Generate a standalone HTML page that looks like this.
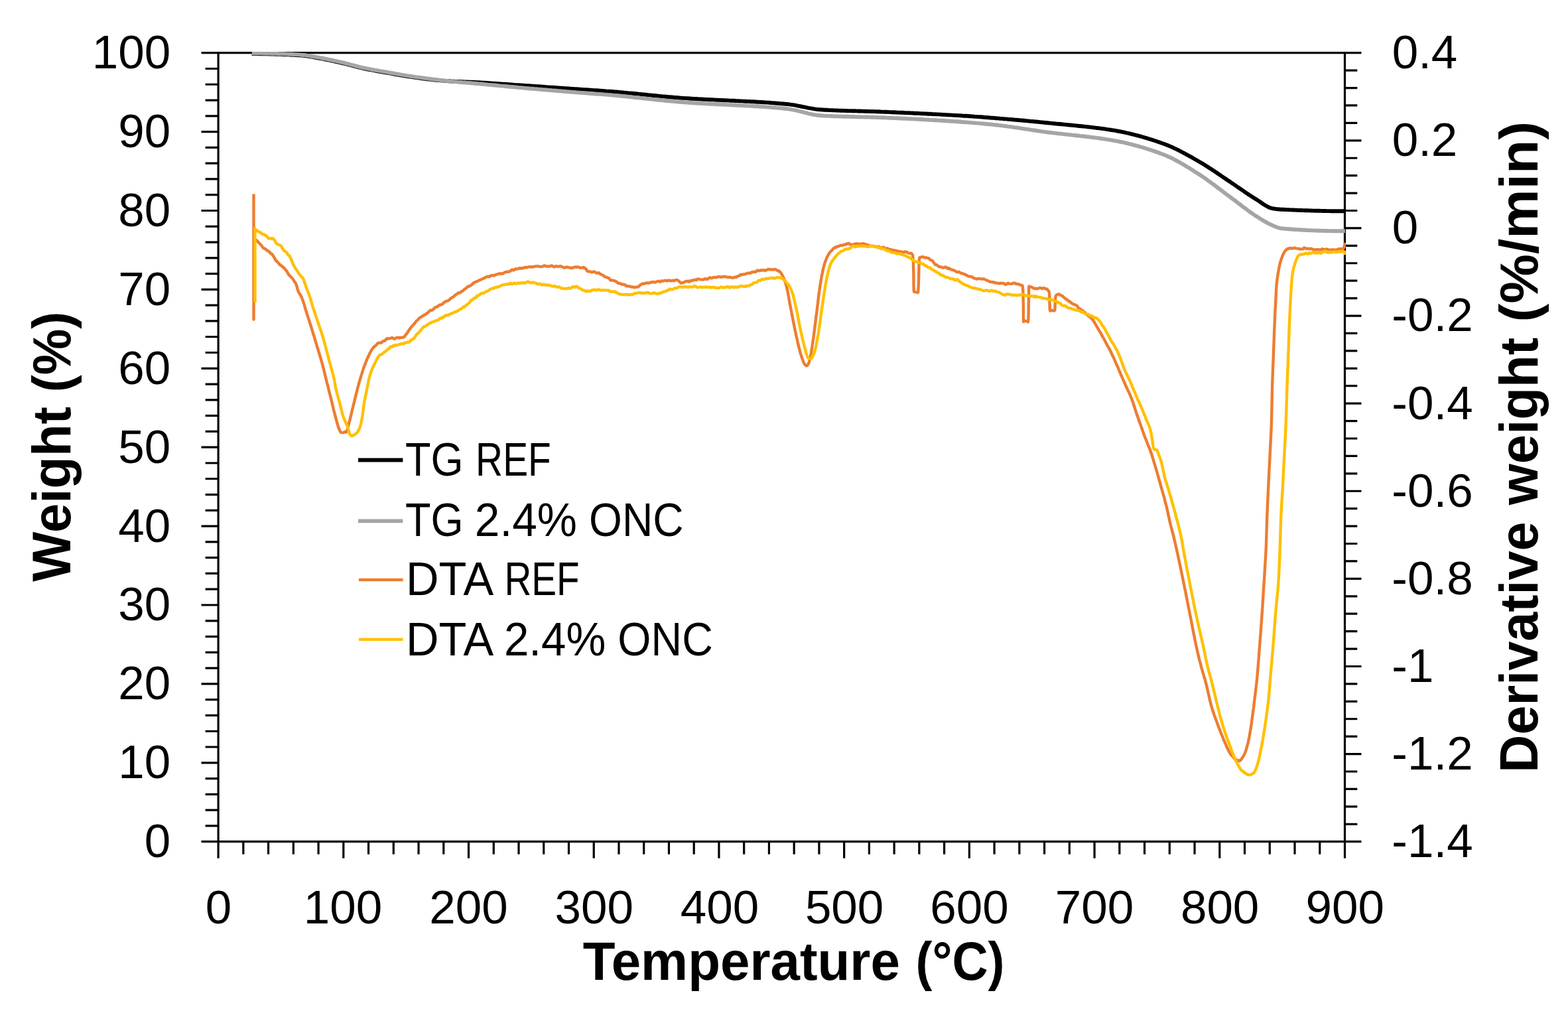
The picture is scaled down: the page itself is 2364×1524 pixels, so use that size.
<!DOCTYPE html>
<html lang="en"><head><meta charset="utf-8"><title>TG / DTA curves</title>
<style>html,body{margin:0;padding:0;background:#fff}body{width:2364px;height:1524px;overflow:hidden}svg{display:block}text{white-space:pre}</style>
</head><body>
<svg width="2364" height="1524" viewBox="0 0 2364 1524" font-family="'Liberation Sans', Arial, sans-serif" fill="#000">
<rect width="2364" height="1524" fill="#fff"/>
<g>
<rect width="2364" height="1524" fill="#fff"/>
<path d="M329.1,79.7 V1293.7 M2027.5,79.7 V1293.7 M303.5,79.7 H2052.5 M303.5,1268.7 H2052.5 M309.6,1244.92 H329.1 M309.6,1221.14 H329.1 M309.6,1197.36 H329.1 M309.6,1173.58 H329.1 M303.5,1149.8 H329.1 M309.6,1126.02 H329.1 M309.6,1102.24 H329.1 M309.6,1078.46 H329.1 M309.6,1054.68 H329.1 M303.5,1030.9 H329.1 M309.6,1007.12 H329.1 M309.6,983.34 H329.1 M309.6,959.56 H329.1 M309.6,935.78 H329.1 M303.5,912 H329.1 M309.6,888.22 H329.1 M309.6,864.44 H329.1 M309.6,840.66 H329.1 M309.6,816.88 H329.1 M303.5,793.1 H329.1 M309.6,769.32 H329.1 M309.6,745.54 H329.1 M309.6,721.76 H329.1 M309.6,697.98 H329.1 M303.5,674.2 H329.1 M309.6,650.42 H329.1 M309.6,626.64 H329.1 M309.6,602.86 H329.1 M309.6,579.08 H329.1 M303.5,555.3 H329.1 M309.6,531.52 H329.1 M309.6,507.74 H329.1 M309.6,483.96 H329.1 M309.6,460.18 H329.1 M303.5,436.4 H329.1 M309.6,412.62 H329.1 M309.6,388.84 H329.1 M309.6,365.06 H329.1 M309.6,341.28 H329.1 M303.5,317.5 H329.1 M309.6,293.72 H329.1 M309.6,269.94 H329.1 M309.6,246.16 H329.1 M309.6,222.38 H329.1 M303.5,198.6 H329.1 M309.6,174.82 H329.1 M309.6,151.04 H329.1 M309.6,127.26 H329.1 M309.6,103.48 H329.1 M2027.5,106.12 H2046.3 M2027.5,132.54 H2046.3 M2027.5,158.97 H2046.3 M2027.5,185.39 H2046.3 M2027.5,211.81 H2052.5 M2027.5,238.23 H2046.3 M2027.5,264.66 H2046.3 M2027.5,291.08 H2046.3 M2027.5,317.5 H2046.3 M2027.5,343.92 H2052.5 M2027.5,370.34 H2046.3 M2027.5,396.77 H2046.3 M2027.5,423.19 H2046.3 M2027.5,449.61 H2046.3 M2027.5,476.03 H2052.5 M2027.5,502.46 H2046.3 M2027.5,528.88 H2046.3 M2027.5,555.3 H2046.3 M2027.5,581.72 H2046.3 M2027.5,608.14 H2052.5 M2027.5,634.57 H2046.3 M2027.5,660.99 H2046.3 M2027.5,687.41 H2046.3 M2027.5,713.83 H2046.3 M2027.5,740.26 H2052.5 M2027.5,766.68 H2046.3 M2027.5,793.1 H2046.3 M2027.5,819.52 H2046.3 M2027.5,845.94 H2046.3 M2027.5,872.37 H2052.5 M2027.5,898.79 H2046.3 M2027.5,925.21 H2046.3 M2027.5,951.63 H2046.3 M2027.5,978.06 H2046.3 M2027.5,1004.48 H2052.5 M2027.5,1030.9 H2046.3 M2027.5,1057.32 H2046.3 M2027.5,1083.74 H2046.3 M2027.5,1110.17 H2046.3 M2027.5,1136.59 H2052.5 M2027.5,1163.01 H2046.3 M2027.5,1189.43 H2046.3 M2027.5,1215.86 H2046.3 M2027.5,1242.28 H2046.3 M366.84,1268.7 V1287.7 M404.58,1268.7 V1287.7 M442.33,1268.7 V1287.7 M480.07,1268.7 V1287.7 M517.81,1268.7 V1293.7 M555.55,1268.7 V1287.7 M593.3,1268.7 V1287.7 M631.04,1268.7 V1287.7 M668.78,1268.7 V1287.7 M706.52,1268.7 V1293.7 M744.26,1268.7 V1287.7 M782.01,1268.7 V1287.7 M819.75,1268.7 V1287.7 M857.49,1268.7 V1287.7 M895.23,1268.7 V1293.7 M932.98,1268.7 V1287.7 M970.72,1268.7 V1287.7 M1008.46,1268.7 V1287.7 M1046.2,1268.7 V1287.7 M1083.94,1268.7 V1293.7 M1121.69,1268.7 V1287.7 M1159.43,1268.7 V1287.7 M1197.17,1268.7 V1287.7 M1234.91,1268.7 V1287.7 M1272.66,1268.7 V1293.7 M1310.4,1268.7 V1287.7 M1348.14,1268.7 V1287.7 M1385.88,1268.7 V1287.7 M1423.62,1268.7 V1287.7 M1461.37,1268.7 V1293.7 M1499.11,1268.7 V1287.7 M1536.85,1268.7 V1287.7 M1574.59,1268.7 V1287.7 M1612.34,1268.7 V1287.7 M1650.08,1268.7 V1293.7 M1687.82,1268.7 V1287.7 M1725.56,1268.7 V1287.7 M1763.3,1268.7 V1287.7 M1801.05,1268.7 V1287.7 M1838.79,1268.7 V1293.7 M1876.53,1268.7 V1287.7 M1914.27,1268.7 V1287.7 M1952.02,1268.7 V1287.7 M1989.76,1268.7 V1287.7" fill="none" stroke="#000" stroke-width="3.2"/>
<g font-size="69.6">
<text y="1292.1" font-size="69.6" xml:space="preserve"><tspan x="217.76" textLength="39.48" lengthAdjust="spacingAndGlyphs">0</tspan></text>
<text y="1173.2" font-size="69.6" xml:space="preserve"><tspan x="178.36" textLength="78.97" lengthAdjust="spacingAndGlyphs">10</tspan></text>
<text y="1054.3" font-size="69.6" xml:space="preserve"><tspan x="178.36" textLength="78.97" lengthAdjust="spacingAndGlyphs">20</tspan></text>
<text y="935.4" font-size="69.6" xml:space="preserve"><tspan x="178.36" textLength="78.97" lengthAdjust="spacingAndGlyphs">30</tspan></text>
<text y="816.5" font-size="69.6" xml:space="preserve"><tspan x="178.36" textLength="78.97" lengthAdjust="spacingAndGlyphs">40</tspan></text>
<text y="697.6" font-size="69.6" xml:space="preserve"><tspan x="178.36" textLength="78.97" lengthAdjust="spacingAndGlyphs">50</tspan></text>
<text y="578.7" font-size="69.6" xml:space="preserve"><tspan x="178.36" textLength="78.97" lengthAdjust="spacingAndGlyphs">60</tspan></text>
<text y="459.8" font-size="69.6" xml:space="preserve"><tspan x="178.36" textLength="78.97" lengthAdjust="spacingAndGlyphs">70</tspan></text>
<text y="340.9" font-size="69.6" xml:space="preserve"><tspan x="178.36" textLength="78.97" lengthAdjust="spacingAndGlyphs">80</tspan></text>
<text y="222" font-size="69.6" xml:space="preserve"><tspan x="178.36" textLength="78.97" lengthAdjust="spacingAndGlyphs">90</tspan></text>
<text y="103.1" font-size="69.6" xml:space="preserve"><tspan x="138.78" textLength="118.45" lengthAdjust="spacingAndGlyphs">100</tspan></text>
<text y="103.1" font-size="69.6" xml:space="preserve"><tspan x="2098.66" textLength="98.69" lengthAdjust="spacingAndGlyphs">0.4</tspan></text>
<text y="235.21" font-size="69.6" xml:space="preserve"><tspan x="2098.66" textLength="98.69" lengthAdjust="spacingAndGlyphs">0.2</tspan></text>
<text y="367.32" font-size="69.6" xml:space="preserve"><tspan x="2098.66" textLength="39.48" lengthAdjust="spacingAndGlyphs">0</tspan></text>
<text y="499.43" font-size="69.6" xml:space="preserve"><tspan x="2098.31" textLength="122.33" lengthAdjust="spacingAndGlyphs">-0.2</tspan></text>
<text y="631.54" font-size="69.6" xml:space="preserve"><tspan x="2098.31" textLength="122.33" lengthAdjust="spacingAndGlyphs">-0.4</tspan></text>
<text y="763.66" font-size="69.6" xml:space="preserve"><tspan x="2098.31" textLength="122.33" lengthAdjust="spacingAndGlyphs">-0.6</tspan></text>
<text y="895.77" font-size="69.6" xml:space="preserve"><tspan x="2098.31" textLength="122.33" lengthAdjust="spacingAndGlyphs">-0.8</tspan></text>
<text y="1027.88" font-size="69.6" xml:space="preserve"><tspan x="2098.31" textLength="63.12" lengthAdjust="spacingAndGlyphs">-1</tspan></text>
<text y="1159.99" font-size="69.6" xml:space="preserve"><tspan x="2098.31" textLength="122.33" lengthAdjust="spacingAndGlyphs">-1.2</tspan></text>
<text y="1292.1" font-size="69.6" xml:space="preserve"><tspan x="2098.31" textLength="122.33" lengthAdjust="spacingAndGlyphs">-1.4</tspan></text>
<text y="1392.4" font-size="69.6" xml:space="preserve"><tspan x="309.81" textLength="39.48" lengthAdjust="spacingAndGlyphs">0</tspan></text>
<text y="1392.4" font-size="69.6" xml:space="preserve"><tspan x="457.79" textLength="118.45" lengthAdjust="spacingAndGlyphs">100</tspan></text>
<text y="1392.4" font-size="69.6" xml:space="preserve"><tspan x="647.39" textLength="118.45" lengthAdjust="spacingAndGlyphs">200</tspan></text>
<text y="1392.4" font-size="69.6" xml:space="preserve"><tspan x="836.54" textLength="118.45" lengthAdjust="spacingAndGlyphs">300</tspan></text>
<text y="1392.4" font-size="69.6" xml:space="preserve"><tspan x="1025.79" textLength="118.45" lengthAdjust="spacingAndGlyphs">400</tspan></text>
<text y="1392.4" font-size="69.6" xml:space="preserve"><tspan x="1213.88" textLength="118.45" lengthAdjust="spacingAndGlyphs">500</tspan></text>
<text y="1392.4" font-size="69.6" xml:space="preserve"><tspan x="1402.23" textLength="118.45" lengthAdjust="spacingAndGlyphs">600</tspan></text>
<text y="1392.4" font-size="69.6" xml:space="preserve"><tspan x="1590.86" textLength="118.45" lengthAdjust="spacingAndGlyphs">700</tspan></text>
<text y="1392.4" font-size="69.6" xml:space="preserve"><tspan x="1779.92" textLength="118.45" lengthAdjust="spacingAndGlyphs">800</tspan></text>
<text y="1392.4" font-size="69.6" xml:space="preserve"><tspan x="1968.46" textLength="118.45" lengthAdjust="spacingAndGlyphs">900</tspan></text>
</g>
<text y="1476.6" font-size="82.3" font-weight="bold" xml:space="preserve"><tspan x="878.8" textLength="478.08" lengthAdjust="spacingAndGlyphs">Temperature</tspan> <tspan x="1380.45" textLength="134.04" lengthAdjust="spacingAndGlyphs">(°C)</tspan></text>
<text y="105.5" font-size="82.3" font-weight="bold" transform="rotate(-90)" xml:space="preserve"><tspan x="-876.8" textLength="263.86" lengthAdjust="spacingAndGlyphs">Weight</tspan> <tspan x="-591.21" textLength="121.53" lengthAdjust="spacingAndGlyphs">(%)</tspan></text>
<text y="2318.4" font-size="82.3" font-weight="bold" transform="rotate(-90)" xml:space="preserve"><tspan x="-1164.64" textLength="378.08" lengthAdjust="spacingAndGlyphs">Derivative</tspan> <tspan x="-761.2" textLength="252.42" lengthAdjust="spacingAndGlyphs">weight</tspan> <tspan x="-485.49" textLength="302.56" lengthAdjust="spacingAndGlyphs">(%/min)</tspan></text>
<clipPath id="pc"><rect x="329.1" y="78.1" width="1700" height="1192.2"/></clipPath>
<g fill="none" stroke-linejoin="round" stroke-linecap="butt" clip-path="url(#pc)">
<path d="M379.6,81.1L382.6,81.1L385.7,81.1L388.7,81.1L391.7,81.2L394.7,81.2L397.7,81.3L400.8,81.3L403.8,81.4L406.8,81.5L409.8,81.5L412.8,81.6L415.8,81.7L418.8,81.8L421.8,81.9L424.8,82L427.8,82.2L430.8,82.3L433.8,82.4L436.8,82.6L439.8,82.7L442.8,82.9L445.8,83L448.8,83.2L451,83.3L451.8,83.3L454.8,83.6L457.7,83.9L460.7,84.3L463.7,84.7L466.7,85.2L469.7,85.7L472.6,86.2L475.6,86.8L478.6,87.3L481.5,87.9L484,88.3L484.5,88.4L487.5,88.9L490.4,89.5L493.4,90.1L496.3,90.7L499.3,91.3L502.2,91.9L505.1,92.6L508.1,93.3L511,93.9L513.9,94.6L516.9,95.3L517,95.3L519.8,96L522.7,96.7L525.6,97.4L528.5,98.2L531.5,99L534.4,99.8L537.3,100.5L540.2,101.3L543.1,102L546,102.7L549,103.4L550,103.6L551.9,104L554.9,104.6L557.8,105.2L560.8,105.7L563.7,106.2L566.7,106.8L569.7,107.3L572.6,107.8L575.6,108.3L578.6,108.8L581.5,109.3L583,109.6L584.5,109.9L587.4,110.4L590.4,110.9L593.4,111.5L596.3,112L599.3,112.5L602.3,113L605.2,113.5L608.2,114.1L611.2,114.5L614.1,115L616,115.3L617.1,115.5L620.1,115.9L623.1,116.4L626,116.8L629,117.2L632,117.7L635,118.1L638,118.5L640.9,118.9L643.9,119.2L646.9,119.6L649,119.8L649.9,119.9L652.9,120.2L655.9,120.5L658.9,120.8L661.9,121.1L664.9,121.4L667.9,121.6L670.9,121.9L673.9,122.1L676.9,122.3L679.9,122.5L682,122.6L682.9,122.6L685.9,122.8L688.9,122.9L691.9,123L694.9,123.2L697.9,123.3L700.9,123.4L703.9,123.5L706.9,123.6L710,123.7L712,123.8L713,123.8L716,124L719,124.2L722,124.3L725,124.5L728,124.7L731,124.8L734,125L737,125.2L740,125.4L743,125.6L746,125.8L749,126L752,126.2L755,126.4L758,126.6L761,126.8L764,127L767,127.2L770,127.4L773,127.6L776,127.9L779,128.1L782,128.3L785,128.5L788,128.7L788.4,128.7L791,128.9L794,129.1L797,129.3L800,129.5L803,129.7L806,129.9L809,130.1L812,130.3L815,130.5L818,130.7L821,130.9L824,131.2L827,131.4L830.1,131.6L833.1,131.8L836.1,132L839.1,132.2L842.1,132.4L845.1,132.6L848.1,132.8L851.1,133.1L854.1,133.3L857.1,133.5L860.1,133.7L863.1,133.9L864.6,134L866.1,134.1L869.1,134.3L872.1,134.5L875.1,134.7L878.1,134.9L881.1,135.1L884.1,135.3L887.1,135.5L890.1,135.7L893.1,135.9L896.1,136.1L899.1,136.3L902.1,136.5L905.1,136.7L908.1,136.9L911.1,137.1L914.1,137.4L917.1,137.6L920,137.8L920.1,137.8L923.1,138L926.1,138.3L929.1,138.5L932.1,138.8L935.1,139.1L938.1,139.3L941.1,139.6L944.1,139.9L947.1,140.2L950.1,140.4L953.1,140.7L956.1,141L959.1,141.3L962.1,141.6L965.1,141.9L968,142.2L971,142.5L974,142.8L977,143.1L980,143.4L983,143.7L986,144L989,144.3L992,144.6L995,144.9L998,145.2L1001,145.4L1004,145.7L1007,146L1010,146.2L1013,146.5L1016,146.8L1019,147L1022,147.2L1025,147.5L1026.9,147.6L1028,147.7L1031,147.9L1034,148.1L1037,148.3L1040,148.5L1043,148.7L1046,148.9L1049,149L1052,149.2L1055,149.4L1058,149.5L1061,149.7L1064,149.9L1067,150L1070.1,150.2L1073.1,150.3L1076.1,150.4L1079.1,150.6L1082.1,150.7L1085.1,150.9L1088.1,151L1091.1,151.2L1094.1,151.3L1097.2,151.4L1100.2,151.6L1103.2,151.7L1106.2,151.8L1109.2,152L1112.2,152.1L1115.2,152.3L1118.2,152.4L1121.2,152.6L1124.2,152.7L1127.2,152.9L1130.2,153L1133.3,153.2L1136.3,153.3L1139.3,153.5L1142.3,153.7L1145.3,153.9L1148.3,154L1151.3,154.2L1154.3,154.4L1157.3,154.6L1160.3,154.8L1163.3,155.1L1166.3,155.3L1169.2,155.5L1172.2,155.7L1175.2,156L1178.2,156.2L1181.2,156.5L1184.2,156.8L1186.8,157L1187.2,157L1190.2,157.4L1193.1,157.8L1196.1,158.2L1199.1,158.7L1202,159.3L1205,159.9L1208,160.5L1210.9,161.1L1213.9,161.7L1216.9,162.3L1219.8,162.9L1222.8,163.4L1225.8,163.9L1228.7,164.4L1231.7,164.8L1234.7,165.1L1237.6,165.3L1237.7,165.3L1240.6,165.5L1243.6,165.7L1246.6,165.8L1249.6,166L1252.6,166.1L1255.6,166.2L1258.6,166.4L1261.6,166.5L1264.6,166.6L1267.6,166.7L1270.6,166.8L1273.7,166.9L1276.7,167L1279.7,167.1L1282.7,167.1L1285.7,167.2L1288.7,167.3L1291.7,167.4L1294.7,167.5L1297.8,167.5L1300.8,167.6L1303.8,167.7L1306.8,167.8L1309.8,167.9L1312.8,168L1315.8,168L1318.8,168.1L1321.9,168.2L1324.9,168.3L1327.9,168.5L1330.9,168.6L1331.5,168.6L1333.9,168.7L1336.9,168.8L1339.9,168.9L1342.9,169.1L1345.9,169.2L1348.9,169.3L1351.9,169.5L1354.9,169.6L1357.9,169.7L1360.9,169.8L1364,170L1367,170.1L1370,170.2L1373,170.4L1376,170.5L1379,170.7L1382,170.8L1385,170.9L1388,171.1L1391,171.2L1394,171.4L1397,171.5L1400,171.7L1403,171.8L1406,172L1409,172.1L1412,172.3L1415,172.4L1418.1,172.6L1421.1,172.8L1424.1,172.9L1427.1,173.1L1430.1,173.3L1433.1,173.4L1436.1,173.6L1439.1,173.8L1442.1,173.9L1445.1,174.1L1448.1,174.3L1450,174.4L1451.1,174.5L1454.1,174.7L1457.1,174.8L1460.1,175L1463.1,175.2L1466.1,175.4L1469.1,175.7L1472.1,175.9L1475.1,176.1L1478.1,176.3L1481.1,176.5L1484.1,176.8L1487.1,177L1490.1,177.2L1493.1,177.5L1496.1,177.7L1499.1,177.9L1500,178L1502.1,178.2L1505.1,178.4L1508.1,178.7L1511.1,178.9L1514.1,179.2L1517.1,179.4L1520.1,179.7L1523.1,179.9L1526.1,180.2L1529.1,180.5L1532.1,180.7L1535.1,181L1538.1,181.3L1541.1,181.5L1544.1,181.8L1547.1,182.1L1550.1,182.4L1553.1,182.7L1556.1,182.9L1559.1,183.2L1562.1,183.5L1565.1,183.8L1568,184.1L1571,184.4L1574,184.7L1577,185L1577,185L1580,185.3L1583,185.6L1586,185.9L1589,186.2L1592,186.5L1595,186.7L1598,187L1601,187.3L1604,187.6L1607,187.9L1610,188.2L1613,188.5L1616.1,188.8L1619.1,189.1L1622.1,189.4L1625.1,189.7L1628.1,190L1631.1,190.3L1634.1,190.6L1637.1,190.9L1640.1,191.3L1643,191.6L1646,191.9L1649,192.3L1652,192.7L1655,193L1658,193.4L1660.9,193.8L1663.9,194.2L1666.9,194.6L1669.8,195.1L1672.8,195.5L1675.7,196L1678.4,196.4L1678.7,196.4L1681.6,196.9L1684.6,197.5L1687.5,198L1690.5,198.6L1693.4,199.2L1696.4,199.8L1699.3,200.5L1702.3,201.2L1705.2,201.9L1708.2,202.6L1711.1,203.3L1714.1,204.1L1717,204.9L1719.9,205.7L1722.8,206.5L1725.7,207.4L1728.6,208.2L1731.5,209.1L1734.4,210L1737.3,210.9L1740.1,211.8L1743,212.8L1745.8,213.7L1748.7,214.7L1751.5,215.7L1754.3,216.7L1754.6,216.8L1757.1,217.7L1759.8,218.8L1762.6,219.9L1765.3,221.1L1768.1,222.3L1770.8,223.6L1773.5,224.9L1776.2,226.2L1778.9,227.6L1781.6,229L1784.3,230.4L1787,231.8L1789.7,233.3L1792.3,234.8L1794.9,236.2L1797.6,237.7L1800.2,239.2L1802.8,240.7L1805.3,242.1L1805.4,242.2L1808,243.7L1810.6,245.2L1813.2,246.7L1815.7,248.3L1818.3,249.9L1820.8,251.5L1823.3,253.2L1825.9,254.8L1828.4,256.5L1830.9,258.1L1833.4,259.8L1835.9,261.5L1838.4,263.2L1840.9,264.9L1843.4,266.6L1845.9,268.3L1848.4,270L1850.9,271.7L1853.4,273.3L1855.9,275L1856,275.1L1858.4,276.7L1860.9,278.4L1863.4,280.1L1865.8,281.8L1868.3,283.5L1870.8,285.2L1873.3,286.9L1875.8,288.6L1878.2,290.3L1880.7,292L1883.2,293.7L1885.8,295.3L1888.3,297L1890.8,298.6L1893.4,300.1L1894,300.5L1895.9,301.7L1898.5,303.4L1901.1,305.2L1903.6,307L1906.2,308.7L1908.9,310.3L1911.5,311.8L1914.2,313L1917,313.9L1919.5,314.5L1919.8,314.5L1922.7,314.9L1925.7,315.3L1928.7,315.5L1931.7,315.7L1932,315.7L1934.7,315.8L1937.7,316L1940.7,316.1L1943.8,316.3L1946.8,316.4L1949.8,316.5L1952.8,316.6L1955.8,316.8L1958.8,316.9L1961.8,317L1964.8,317.1L1967.8,317.2L1970.8,317.3L1973.8,317.4L1976.8,317.5L1979.8,317.6L1982.8,317.7L1985.8,317.7L1988.8,317.8L1991.8,317.9L1994.8,318L1997.9,318L2000.9,318.1L2003.9,318.1L2006.9,318.2L2009.9,318.2L2012.9,318.2L2015.9,318.3L2018.9,318.3L2022,318.3L2025,318.3L2028,318.3" stroke="#000" stroke-width="5.9"/>
<path d="M379.6,80.3L382.6,80.3L385.7,80.3L388.7,80.3L391.7,80.4L394.7,80.4L397.7,80.5L400.7,80.5L403.8,80.6L406.8,80.6L409.8,80.7L412.8,80.8L415.8,80.9L418.8,81L421.8,81.1L424.8,81.2L427.8,81.3L430.8,81.4L433.8,81.6L436.8,81.7L439.8,81.8L442.8,82L445.7,82.1L448.7,82.3L451,82.4L451.7,82.4L454.7,82.7L457.7,83L460.7,83.3L463.6,83.8L466.6,84.2L469.6,84.8L472.6,85.3L475.5,85.8L478.5,86.4L481.5,86.9L484,87.4L484.4,87.5L487.4,88L490.3,88.6L493.3,89.2L496.2,89.8L499.2,90.4L502.1,91L505,91.7L508,92.3L510.9,93L513.8,93.7L516.8,94.3L517,94.4L519.7,95L522.6,95.8L525.5,96.5L528.4,97.3L531.3,98L534.2,98.8L537.1,99.6L540.1,100.4L543,101.1L545.9,101.8L548.8,102.4L550,102.7L551.8,103.1L554.7,103.7L557.7,104.2L560.6,104.8L563.6,105.3L566.5,105.8L569.5,106.4L572.5,106.9L575.4,107.4L578.4,107.9L581.3,108.4L583,108.7L584.3,108.9L587.3,109.5L590.2,110L593.2,110.5L596.1,111.1L599.1,111.6L602.1,112.1L605,112.6L608,113.1L611,113.6L613.9,114.1L616,114.4L616.9,114.5L619.9,115L622.8,115.4L625.8,115.9L628.8,116.3L631.8,116.7L634.8,117.1L637.7,117.5L640.7,117.9L643.7,118.3L646.7,118.7L649,119L649.7,119.1L652.6,119.5L655.6,119.8L658.6,120.2L661.6,120.6L664.6,120.9L667.6,121.3L670.6,121.6L673.5,121.9L676.5,122.2L679.5,122.6L682,122.8L682.5,122.9L685.5,123.1L688.5,123.4L691.5,123.7L694.5,123.9L697.5,124.2L700.5,124.4L703.5,124.7L706.5,124.9L709.5,125.2L712,125.4L712.5,125.4L715.5,125.7L718.5,126L721.4,126.3L724.4,126.5L727.4,126.8L730.4,127.1L733.4,127.4L736.4,127.7L739.4,127.9L742.4,128.2L745.4,128.5L748.4,128.8L751.4,129.1L754.4,129.4L757.4,129.6L760.4,129.9L763.4,130.2L766.3,130.5L769.3,130.8L772.3,131L775.3,131.3L778.3,131.6L781.3,131.9L784.3,132.1L787.3,132.4L788.4,132.5L790.3,132.7L793.3,132.9L796.3,133.2L799.3,133.5L802.3,133.7L805.3,134L808.3,134.2L811.3,134.5L814.3,134.7L817.3,135L820.2,135.2L823.2,135.5L826.2,135.8L829.2,136L832.2,136.3L835.2,136.5L838.2,136.7L841.2,137L844.2,137.2L847.2,137.5L850.2,137.7L853.2,138L856.2,138.2L859.2,138.5L862.2,138.7L864.6,138.9L865.2,138.9L868.2,139.2L871.2,139.4L874.2,139.7L877.2,139.9L880.2,140.1L883.2,140.3L886.2,140.6L889.2,140.8L892.2,141L895.2,141.2L898.2,141.5L901.2,141.7L904.2,141.9L907.2,142.1L910.2,142.4L913.2,142.6L916.2,142.9L919.1,143.1L920,143.2L922.1,143.4L925.1,143.7L928.1,143.9L931.1,144.2L934.1,144.5L937.1,144.8L940.1,145.1L943.1,145.4L946.1,145.7L949.1,146L952.1,146.3L955.1,146.7L958,147L961,147.3L964,147.6L967,147.9L970,148.3L973,148.6L976,148.9L979,149.2L982,149.6L984.9,149.9L987.9,150.2L990.9,150.5L993.9,150.8L996.9,151.1L999.9,151.4L1002.9,151.7L1005.9,152L1008.9,152.3L1011.9,152.6L1014.9,152.9L1017.9,153.1L1020.8,153.4L1023.8,153.7L1026.8,153.9L1026.9,153.9L1029.8,154.1L1032.8,154.4L1035.8,154.6L1038.8,154.8L1041.8,155L1044.8,155.2L1047.8,155.4L1050.8,155.6L1053.8,155.7L1056.9,155.9L1059.9,156.1L1062.9,156.3L1065.9,156.4L1068.9,156.6L1071.9,156.7L1074.9,156.9L1077.9,157L1080.9,157.2L1083.9,157.3L1086.9,157.5L1090,157.6L1093,157.8L1096,157.9L1099,158.1L1102,158.2L1105,158.4L1108,158.5L1111,158.7L1114,158.8L1117,159L1120.1,159.1L1123.1,159.3L1126.1,159.5L1129.1,159.6L1132.1,159.8L1135.1,160L1138.1,160.2L1141.1,160.3L1144.1,160.5L1147.1,160.7L1150.1,160.9L1153.1,161.1L1156,161.4L1159,161.6L1162,161.8L1165,162.1L1168,162.3L1171,162.6L1174,162.8L1176.9,163.1L1179.9,163.4L1182.9,163.7L1185.9,164L1186.8,164.1L1188.8,164.3L1191.8,164.8L1194.7,165.3L1197.7,165.9L1200.6,166.5L1203.6,167.3L1206.5,168L1209.5,168.7L1212.4,169.5L1215.3,170.2L1218.3,171L1221.2,171.7L1224.2,172.3L1227.1,172.9L1230.1,173.4L1233,173.8L1236,174.1L1237.6,174.2L1239,174.3L1241.9,174.5L1244.9,174.6L1247.9,174.8L1250.9,174.9L1253.9,175L1256.9,175.2L1259.9,175.3L1262.9,175.4L1265.9,175.5L1268.9,175.6L1271.9,175.7L1274.9,175.7L1277.9,175.8L1280.9,175.9L1283.9,176L1286.9,176L1290,176.1L1293,176.2L1296,176.3L1299,176.3L1302,176.4L1305,176.5L1308,176.5L1311.1,176.6L1314.1,176.7L1317.1,176.8L1320.1,176.9L1323.1,177L1326.1,177.1L1329.1,177.2L1331.5,177.3L1332.1,177.3L1335.1,177.4L1338.1,177.6L1341.1,177.7L1344.1,177.8L1347.1,178L1350.1,178.1L1353.1,178.2L1356.1,178.4L1359.1,178.5L1362.2,178.7L1365.2,178.8L1368.2,178.9L1371.2,179.1L1374.2,179.2L1377.2,179.4L1380.2,179.6L1383.2,179.7L1386.2,179.9L1389.2,180L1392.2,180.2L1395.2,180.4L1398.2,180.5L1401.2,180.7L1404.2,180.9L1407.2,181.1L1410.2,181.2L1413.2,181.4L1416.2,181.6L1419.2,181.8L1422.2,182L1425.2,182.2L1428.2,182.3L1431.2,182.5L1434.2,182.7L1437.2,182.9L1440.2,183.1L1443.2,183.3L1446.2,183.5L1449.2,183.7L1450,183.8L1452.2,184L1455.2,184.2L1458.2,184.4L1461.2,184.6L1464.2,184.9L1467.2,185.1L1470.2,185.4L1473.2,185.6L1476.2,185.9L1479.2,186.1L1482.2,186.4L1485.2,186.7L1488.1,187L1491.1,187.3L1494.1,187.6L1497.1,187.9L1500,188.2L1500.1,188.2L1503.1,188.5L1506.1,188.9L1509.1,189.2L1512,189.6L1515,190L1518,190.4L1521,190.8L1524,191.2L1526.9,191.6L1529.9,192.1L1532.9,192.5L1535.9,192.9L1538.8,193.4L1541.8,193.8L1544.8,194.3L1547.7,194.7L1550.7,195.2L1553.7,195.7L1556.7,196.1L1559.6,196.5L1562.6,197L1565.6,197.4L1568.6,197.8L1571.6,198.3L1574.5,198.7L1577,199L1577.5,199.1L1580.5,199.5L1583.5,199.8L1586.5,200.2L1589.5,200.6L1592.4,200.9L1595.4,201.3L1598.4,201.6L1601.4,201.9L1604.4,202.3L1607.4,202.6L1610.4,202.9L1613.4,203.2L1616.4,203.6L1619.4,203.9L1622.4,204.2L1625.4,204.5L1628.4,204.9L1631.4,205.2L1634.4,205.5L1637.4,205.9L1640.4,206.2L1643.4,206.6L1646.4,207L1649.3,207.3L1652.3,207.7L1655.3,208.1L1658.3,208.5L1661.2,209L1664.2,209.4L1667.1,209.8L1670.1,210.3L1673,210.8L1676,211.3L1678.4,211.7L1678.9,211.8L1681.9,212.3L1684.8,212.9L1687.8,213.5L1690.7,214.1L1693.6,214.7L1696.6,215.4L1699.5,216.1L1702.5,216.8L1705.4,217.5L1708.4,218.3L1711.3,219.1L1714.2,219.9L1717.1,220.7L1720.1,221.5L1723,222.4L1725.9,223.3L1728.8,224.2L1731.6,225.1L1734.5,226L1737.4,227L1740.2,227.9L1743,228.9L1745.8,229.9L1748.6,230.9L1751.4,232L1754.2,233L1754.6,233.2L1756.9,234.1L1759.6,235.3L1762.4,236.5L1765.1,237.7L1767.8,239L1770.4,240.4L1773.1,241.8L1775.8,243.3L1778.4,244.7L1781,246.2L1783.7,247.8L1786.3,249.3L1788.9,250.9L1791.4,252.5L1794,254.1L1796.6,255.7L1799.1,257.3L1801.7,258.9L1804.2,260.5L1805.3,261.2L1806.8,262.1L1809.3,263.8L1811.8,265.4L1814.2,267.1L1816.7,268.8L1819.2,270.5L1821.6,272.3L1824,274L1826.5,275.8L1828.9,277.6L1831.3,279.4L1833.7,281.2L1836.1,283.1L1838.5,284.9L1840.9,286.7L1843.3,288.5L1845.7,290.3L1848.1,292.2L1850.5,294L1852.9,295.8L1855.4,297.5L1856,298L1857.8,299.3L1860.2,301.1L1862.6,302.9L1865,304.8L1867.4,306.6L1869.8,308.4L1872.2,310.3L1874.6,312.1L1877,313.9L1879.4,315.7L1881.8,317.5L1884.2,319.3L1886.7,321L1889.1,322.7L1891.6,324.4L1894,325.9L1894.2,326L1896.7,327.6L1899.2,329.2L1901.8,330.8L1904.4,332.4L1907,333.9L1909.6,335.4L1912.3,336.9L1915,338.2L1917.7,339.4L1919.5,340.2L1920.4,340.6L1923.2,341.8L1926.1,342.9L1929,343.8L1931.9,344.3L1932,344.3L1934.8,344.6L1937.7,344.8L1940.6,345.1L1943.6,345.3L1946.5,345.5L1949.4,345.7L1952.4,346L1955.3,346.1L1958.2,346.3L1961.2,346.5L1964.2,346.7L1967.1,346.8L1970.1,347L1973.1,347.1L1976.1,347.3L1979,347.4L1982,347.5L1985.1,347.6L1988.1,347.7L1991.1,347.8L1994.1,347.9L1997.1,348L2000.2,348L2003.2,348.1L2006.3,348.1L2009.4,348.2L2012.5,348.2L2015.5,348.2L2018.6,348.3L2021.8,348.3L2024.9,348.3L2028,348.3" stroke="#A5A5A5" stroke-width="5.9"/>
<path d="M382.5,292.6 L382.5,481.6 L383,360.6L384.5,361.5L385.9,362L386.7,362L387.2,362.4L388.4,363.9L389.5,365.2L390.6,366.3L391.7,367.4L392.8,368.7L393.9,369.6L394.9,371.1L396.1,372.9L397.2,374.2L397.2,374L398.4,374.4L399.7,375.3L401,375.9L402.3,377.3L403.7,378.3L405,378.6L406.3,379.7L407.5,381.4L408.7,382.5L409.8,382.9L410.4,383.3L410.9,384.3L411.8,385.7L412.7,386.8L413.5,388.2L414.4,390L415.2,391.8L416,392.8L416.9,393.5L417.8,394.8L418.2,394.7L418.9,395.3L420,396.8L421.2,398.4L422.5,399.7L423.7,400L425,401.3L426.3,402.7L427.5,403.1L428.6,404.2L428.7,404.6L429.7,405.6L430.7,407L431.6,407.9L432.6,409.1L433.5,411.1L434.4,412.6L435.4,413.9L436.3,415.2L436.6,415.6L437.3,416L438.4,417.2L439.4,418.4L440.5,419.4L441.6,420.7L442.7,422.4L443.6,424.3L444.6,425.2L445.4,426.6L445.8,427.3L446,427.5L446.6,429L447.1,430.4L447.6,432L448,433.9L448.4,435.3L448.9,436.8L449.4,438.4L449.7,439.3L450,440L450.7,441.3L451.5,442.6L452.3,443.9L453.1,444.8L453.9,446.5L454.6,447.9L455,448.6L455.2,449.5L455.8,450.9L456.4,452.3L456.9,454.1L457.4,455.6L457.9,456.9L458.4,458.1L458.8,459.7L459.3,461.5L459.7,463.1L460.2,464.6L460.7,466.3L461.2,467.9L461.2,468L461.7,469.5L462.1,471L462.6,472.4L463.1,474.3L463.6,476L464.1,477.1L464.6,478.5L465.1,480.3L465.6,481.9L466.1,483.4L466.6,484.7L467,486.1L467.5,487.7L468,489.4L468.5,490.7L469,492.2L469.5,493.7L469.9,495.4L470.2,496.2L470.4,496.8L470.9,498.5L471.3,500.1L471.8,501.5L472.3,503.1L472.7,504.7L473.2,506.1L473.7,507.6L474.1,508.9L474.6,510.5L475,512.2L475.5,513.7L475.9,515.3L476.4,516.7L476.9,518.2L477.3,519.8L477.8,521.6L478.1,522.8L478.2,523L478.7,524.5L479.2,526L479.6,527.5L480.1,529.1L480.6,530.7L481,531.9L481.5,533.4L482,535.1L482.4,536.7L482.9,538.3L483.3,539.8L483.8,541.3L484.2,542.9L484.7,544.4L485.1,546L485.6,547.6L485.9,548.7L486,549L486.4,550.5L486.8,551.9L487.2,553.6L487.6,555.1L488,556.6L488.4,558.1L488.8,559.7L489.2,561.4L489.5,562.9L489.9,564.4L490.3,566L490.7,567.4L491.1,569.3L491.4,571L491.8,572.2L492.2,573.9L492.5,575.1L492.6,575.4L493,577.1L493.4,578.5L493.8,579.9L494.2,581.5L494.6,583L495,584.5L495.3,586L495.7,587.7L496.1,589.5L496.5,591.1L496.9,592.7L497.3,594.3L497.7,595.6L498.1,597.1L498.5,598.5L498.9,600L499.1,601L499.2,601.7L499.6,603.4L500,604.9L500.4,606.4L500.8,607.8L501.1,609.4L501.5,611.2L501.9,612.8L502.3,614.3L502.6,616L503,617.8L503.4,619.2L503.8,620.5L504.2,622.1L504.6,623.7L505,625.2L505.4,626.8L505.6,627.7L505.8,628.4L506.2,630L506.6,631.4L507,632.9L507.4,634.4L507.8,635.8L508.3,637.6L508.7,639.2L509.2,640.8L509.6,642.3L510.1,643.6L510.7,645.3L511.3,646.7L511.5,647.2L511.9,648.2L512.6,649.8L513.4,651.3L514.1,651.6L514.5,652.1L516,652.1L517.9,652.1L519.8,651.1L521.2,650.6L521.4,651.5L522,651.4L522.6,650.7L523.2,649.6L523.7,647.6L524.2,645.7L524.6,644L525,642.1L525.3,640.7L525.5,640.1L525.9,638.5L526.3,636.9L526.8,635.3L527.2,634.1L527.6,632.6L527.9,630.9L528.3,629.3L528.7,627.8L529.1,626.2L529.5,624.7L529.8,623.2L530.2,621.4L530.6,619.9L530.9,618.2L531.3,616.4L531.7,615.1L531.9,614.3L532.1,613.6L532.5,612.1L532.8,610.6L533.2,609.3L533.6,607.9L534,606.1L534.4,604.5L534.7,602.9L535.1,601.3L535.5,599.8L535.9,598.4L536.3,596.7L536.6,595.1L537,593.7L537.4,592L537.8,590.6L538.2,589L538.4,588.3L538.6,587.6L539,585.9L539.4,584.3L539.8,582.7L540.3,581L540.7,579.4L541.1,577.9L541.5,576.4L541.9,575L542.4,573.5L542.8,571.9L543.3,570.5L543.7,569.3L544.2,567.6L544.6,565.9L545,564.8L545.1,564.6L545.6,563.2L546.1,561.4L546.6,559.6L547.1,558.1L547.6,556.6L548.1,554.9L548.7,553.5L549.2,552L549.8,550.6L550.4,549.3L550.9,547.4L551.5,545.7L551.5,545.8L552.1,544.7L552.7,543.2L553.3,541.3L554,540L554.6,538.8L555.3,537.1L556,535.8L556.7,534.5L557.4,532.9L558.1,531.4L558.2,531.1L559,529.9L559.9,528.1L560.8,526.8L561.7,525.5L562.7,524.1L563.7,522.9L564.8,522.2L565.9,521.6L566,521.1L567.1,520.3L568.4,518.7L569.8,517.1L571.3,516.7L572.8,517.1L574.2,516.7L575.2,516.3L575.6,516.4L577,514.8L578.4,513.6L579.9,513.9L581.3,512.7L582.7,510.6L584.2,510.2L584.4,510.7L585.7,510.6L587.3,510.2L588.9,509.9L590.5,509.2L592.1,509.3L593.7,510.7L595.3,510.8L596.9,509.6L597.5,509.4L598.5,508.9L600.1,508.8L601.8,509.6L603.5,508.9L605.2,508.7L606.7,508.7L608.2,508.5L609.3,508L609.5,507.7L610.6,506.3L611.6,504.8L612.6,503.8L613.5,502.6L614.4,501.2L615.3,499.9L615.9,498.9L616.3,497.9L617.3,496.8L618.3,495.4L619.2,494.1L620.2,492.8L621.2,491.9L622.2,490.7L623.2,489.5L624.2,488.4L625.2,487.4L626.3,485.8L627.4,484.3L627.7,484.1L628.5,483.1L629.8,482.4L631,480.9L632.3,479.3L633.6,478.4L634.9,478.1L636.3,476.9L637.6,476L638.9,475.4L640,474.3L640.2,474.5L641.4,474L642.7,473.1L643.9,471.9L645.2,471.1L646.5,470.2L647.7,468.5L649,467.5L649.7,467.8L650.3,467.9L651.7,467.6L653,466.6L654.3,465.1L655.7,463.7L657.1,462.9L658.5,462.6L659.8,462.1L661.2,460.8L662.6,459.7L664,459.5L665.4,459.3L666.8,458.4L668.2,456.9L669.6,455.8L671,455L672.4,454.2L673.8,453.7L675.2,453.4L676.6,452.5L677.9,451.6L678.6,450.8L679.3,450L680.6,449.1L682,448.1L683.3,447.7L684.6,446.8L685.9,445L687.3,444.1L688.6,443.5L689.9,442.3L691.2,441.4L692.5,441.3L693.8,441.2L695.1,440L696.4,438.9L697.8,438.6L699.1,437.2L700.4,435.8L701.7,435.1L703,434.2L704.4,432.7L705.7,431.6L707,431.4L707.5,431.6L708.4,431.3L709.7,429.9L711.1,429.1L712.4,428.5L713.7,426.6L715.1,425.8L716.5,425.4L717.9,424.6L719,424.1L719.3,424.2L720.7,423.7L722.2,422.5L723.7,422L725.2,421.5L726.7,420.4L728.2,420.1L729.7,419.4L731.3,418.3L732.8,417.8L734.4,417L735.9,416.6L737.4,417.3L738.1,417L739,416.1L740.5,415.5L742.1,414.9L743.6,415.4L745.2,415.5L746.7,414.3L748.3,413.8L749.8,413.4L751.4,412.9L752.9,412.6L754.5,412.3L756.1,412.5L757.1,412.7L757.6,412.6L759.1,411.8L760.7,410.7L762.2,410.2L763.8,409.9L765.3,409.7L766.8,409.7L768.4,409.1L769.9,408.2L771.4,406.8L773,406.7L774.5,407.4L776,406L777.6,405.2L779.1,405.8L780.7,404.9L782.2,404.8L783.8,404.8L783.8,403.9L785.3,404.4L786.9,404.7L788.5,403.7L790.1,403.8L791.6,403L793.2,403L794.8,403.2L796.4,402.4L798,402.4L799.6,402.3L800.9,402.7L801.2,402.2L802.7,402.1L804.3,402.2L805.9,401.6L807.5,401.5L809.1,401.4L810.7,401.1L812.3,401.7L813.9,401.9L815.5,401.9L817.1,402.1L818.7,401.3L820.3,400.4L821.9,400.6L823.6,401.4L825.2,401.7L826.8,401.3L828.4,401.6L830,401.2L831.6,400.3L833.2,401L834.8,402.2L836.4,402.3L838,401.1L839.6,401.2L840.9,401.8L841.2,402L842.8,401.7L844.4,401.2L845.9,401.5L847.5,402.1L849.1,402.9L850.7,403.7L852.3,403.1L853.9,402.4L855.5,402.8L857.1,403.1L858.6,403.4L860.2,403.8L861.8,403.7L861.8,404L863.4,403.8L865.1,403L866.8,402.5L868.4,402.5L870.1,402.7L871.8,402.4L873.4,403.1L875,403.9L876.6,403.6L878.1,403.3L879.6,403L880.8,403.1L881,404.3L882.3,404.5L883.5,405.3L884.7,407.7L885.9,408.9L886.6,409L887.3,409.3L888.7,409.4L890.3,409.5L891.9,410.5L893.5,410.1L895.1,409.4L896.7,410L898.3,411L899.9,411.8L899.9,411.7L901.4,411.4L902.9,411.3L904.3,412.4L905.8,413.6L907.3,414L908.7,414.7L910.2,416L911.6,417.1L913,417.4L914.5,418L915.9,418.7L917.4,419L918.8,420.1L918.9,420.7L920.3,422.4L921.7,422.6L923.2,422.3L924.6,423.1L926.1,423.1L927.5,423.7L929,424.4L930.4,425.4L931.9,426.9L933.4,427.2L934.9,427L936.3,428L937.8,428.9L938,428.4L939.4,428.9L940.9,428.8L942.4,429.3L944,430.8L945.6,431.3L947.1,431.5L948.7,431.4L950.3,431.9L951.8,432.6L953.2,432.5L953.4,432.4L954.9,432.8L956.5,433.4L958,433L959.5,432.6L961.1,432.6L962.6,432L964.1,430.8L965.7,429.3L967.2,428.3L968.8,427.7L970.3,427.5L970.3,427.9L971.9,427.3L973.5,426.8L975.1,426.4L976.6,426.7L978.2,426.7L979.8,426.1L981.4,425.7L983,425.2L984.6,425L986.2,425.5L987.8,425.6L989.4,424.8L991,424.2L992.6,423.9L994.1,424.3L995.1,425.1L995.7,424.4L997.3,423.3L999,423.6L1000.6,423.5L1002.2,422.8L1003.9,422.9L1005.5,423.6L1007.1,422.8L1008.8,422.5L1010.4,423.2L1012,423.4L1013.6,422.7L1015.1,423.1L1016.7,423.3L1018.2,422L1019.7,422.1L1019.8,421.9L1021.1,422.1L1022.5,422.9L1023.8,424.1L1025.2,425.4L1026.6,426.3L1027.4,426.8L1028,426.6L1029.5,426.1L1031,425.9L1032.5,424.7L1034,423.9L1035.6,424.2L1037.1,423.8L1038.7,423.7L1038.9,424.7L1040.2,424.3L1041.8,423L1043.4,422.8L1045,422.9L1046.6,421.9L1048.2,421.8L1049.8,422.2L1051.4,420.6L1053,420.4L1054.6,421.1L1056.2,421.4L1057.8,421.4L1059.4,421.5L1061,421.4L1061.7,421L1062.6,420.2L1064.2,420.2L1065.8,421.1L1067.4,420.4L1069,419L1070.6,418.3L1072.1,419.2L1073.7,419.1L1075.3,418.1L1076.9,417.9L1078.5,418.2L1080.1,418.2L1081.7,417.5L1083.2,417.1L1084.8,417.1L1086.4,417.8L1088,417.5L1089.6,417.3L1090.3,417.3L1091.2,416.9L1092.8,417L1094.4,417.1L1096,417.7L1097.6,418.1L1099.2,417.8L1100.8,417.9L1102.4,418.3L1103.9,418.6L1105.5,418.8L1105.5,418.8L1107,418L1108.5,417.6L1110,418L1111.4,416.7L1112.9,416L1114.4,415.9L1115.9,414.7L1116.4,413.8L1117.4,414.1L1118.9,414.2L1120.4,413.3L1122,413.6L1123.5,413.2L1125.1,412.5L1126.7,411.9L1128.2,411.7L1129.8,411.8L1131.4,411.5L1132.8,410.9L1132.9,410.5L1134.5,410.1L1136.1,409.6L1137.6,410L1139.2,409.9L1140.8,408.2L1142.4,407.4L1143.9,408.4L1145.5,408.1L1147.1,407.1L1148.7,407.6L1150.3,407.2L1151.9,407.3L1153.4,408L1155,407.1L1156.6,406.7L1157.4,406.6L1158.2,405.6L1159.8,406L1161.5,406.5L1163.2,406.2L1164.9,406.5L1166.6,406.4L1168.2,405.9L1169.8,406.3L1171.3,407.3L1172.7,408.3L1173.8,408.7L1174,408.1L1175.2,408.8L1176.4,410.6L1177.5,411.5L1178.4,412.7L1178.7,413.6L1179.3,414.8L1180,416.1L1180.7,417.5L1181.4,418.9L1182,420.3L1182.6,421.8L1183.2,423.2L1183.7,424.7L1184.2,426.3L1184.7,428.2L1185.2,429.8L1185.3,430.1L1185.6,431.1L1186,432.6L1186.4,434.2L1186.7,435.8L1187.1,437.4L1187.4,439L1187.7,440.5L1188,442L1188.3,443.7L1188.6,445.2L1188.9,446.8L1189.2,448.5L1189.5,450.1L1189.7,451.6L1190,453.1L1190.3,454.8L1190.6,456.4L1190.8,457.9L1191.1,459.5L1191.4,461L1191.7,462.6L1191.8,463.1L1192,464.3L1192.3,465.8L1192.7,467.3L1193,468.7L1193.3,470.5L1193.6,472.1L1193.9,473.5L1194.2,475.3L1194.5,476.8L1194.8,478.2L1195.1,479.8L1195.4,481.4L1195.7,482.9L1196,484.5L1196.3,486.2L1196.6,487.9L1196.9,489.1L1197.2,490.5L1197.6,492.3L1197.9,494L1198.2,495.5L1198.5,497.1L1198.9,498.5L1199.2,500.1L1199.5,501.9L1199.9,503.4L1200,504L1200.2,505L1200.6,506.6L1200.9,508L1201.3,509.6L1201.6,511.2L1202,512.6L1202.3,514.2L1202.7,516L1203,517.6L1203.4,519.1L1203.8,520.6L1204.1,522.1L1204.5,523.6L1204.9,525.2L1205.3,526.9L1205.7,528.4L1206.2,530.2L1206.6,531.6L1207,532.9L1207.5,534.6L1208,536.3L1208.2,537L1208.5,537.6L1209,539L1209.5,540.5L1210,541.9L1210.6,543.7L1211.2,545.5L1211.9,547L1212.6,548.2L1213.2,549.5L1213.4,549.8L1214.5,550.2L1215.6,551L1215.7,551.5L1216.9,551L1218.2,549.3L1218.9,548L1219,548.3L1219.5,546.7L1220,545L1220.5,543.5L1220.9,542.2L1221.3,540.9L1221.7,539.4L1222,537.9L1222.3,536.3L1222.6,534.7L1222.9,533L1223.1,531.3L1223.3,529.6L1223.6,527.9L1223.8,526.3L1224,524.6L1224.3,523.1L1224.5,521.5L1224.7,520.4L1224.8,519.8L1225,518.3L1225.3,516.7L1225.5,515.1L1225.8,513.5L1226,512L1226.2,510.4L1226.5,508.8L1226.7,507.1L1226.9,505.6L1227.1,504.1L1227.3,502.5L1227.5,500.9L1227.7,499.3L1227.9,497.8L1228.1,496.2L1228.3,494.6L1228.5,492.9L1228.7,491.3L1228.9,489.7L1229.1,488.2L1229.3,486.5L1229.5,484.8L1229.7,483.3L1229.9,481.8L1230.1,480.2L1230.2,478.7L1230.4,477.1L1230.7,475.5L1230.9,473.9L1231.1,472.3L1231.2,471.3L1231.3,470.8L1231.5,469.1L1231.7,467.5L1231.9,465.9L1232.1,464.2L1232.3,462.6L1232.5,461L1232.7,459.4L1232.9,458L1233.1,456.4L1233.3,454.8L1233.4,453.1L1233.6,451.4L1233.8,450L1234,448.4L1234.2,446.8L1234.4,445.1L1234.6,443.5L1234.8,442.1L1235,440.5L1235.2,438.9L1235.5,437.3L1235.7,435.6L1235.9,434.1L1236.1,432.6L1236.4,431L1236.6,429.4L1236.8,427.7L1237.1,426.2L1237.4,424.8L1237.6,423.1L1237.8,421.9L1237.9,421.5L1238.2,419.9L1238.5,418.3L1238.7,416.9L1239,415.1L1239.4,413.5L1239.7,412L1240,410.3L1240.3,408.7L1240.7,407.2L1241,405.6L1241.4,404.1L1241.8,402.5L1242.2,400.8L1242.6,399.2L1243.1,397.8L1243.5,396.6L1244,395.1L1244.3,394.3L1244.5,393.6L1245.1,392.2L1245.7,390.7L1246.3,388.9L1247,387.2L1247.8,386L1248.6,384.5L1249.4,382.9L1250.3,381.7L1250.9,380.7L1251.2,380.5L1252.2,379.1L1253.3,378L1254.5,377.2L1255.7,375.3L1257,374.4L1258.4,373.3L1259.7,372.5L1260.7,372.9L1261.1,372.4L1262.5,371.4L1264,371.4L1265.5,370.8L1267,369.9L1268.6,369.8L1270.2,369.9L1271.8,369.2L1273.4,368.4L1275,368.7L1276.6,367.6L1277.1,367.1L1278.1,367.4L1279.7,366.7L1281.3,368.2L1282.9,368.9L1284.5,368.7L1286.1,368.5L1287.7,368L1289.3,367.9L1290.9,367.4L1292.6,367.4L1294.2,367.6L1295.8,368.2L1296.8,368L1297.4,367.6L1299,367.5L1300.5,367.5L1302.1,367.2L1303.7,368L1305.3,368.7L1306.9,368.7L1308.5,369.3L1310.1,370.1L1311.7,370.8L1313.3,370.6L1314.8,370.6L1316.4,370.9L1316.5,371L1318,371.2L1319.6,371.5L1321.1,372.2L1322.7,372.2L1324.2,371.5L1325.8,372.2L1327.4,373.8L1328.9,373.4L1330.5,372.9L1332,372.7L1333.6,373.6L1335.1,374.4L1336.7,375.2L1337.8,374.9L1338.2,374.4L1339.8,376L1341.4,376.2L1342.9,376L1344.5,376.6L1346.1,377L1347.7,377.1L1349.2,377.6L1350.8,377.9L1352.4,378.2L1354,379L1355.5,379.3L1357.1,379.3L1358.7,379.5L1360.2,380L1361.8,380.1L1362.4,380.2L1363.4,379.7L1365.2,379.3L1367.2,380.1L1369.2,381.1L1371.1,382.1L1372.8,381.7L1374.1,381.9L1375.1,383.1L1375.5,383.7L1375.5,383.7L1375.8,384.3L1376,385.1L1376.2,386.6L1376.3,388.3L1376.5,389.8L1376.6,391.4L1376.7,393.3L1376.8,395.2L1376.9,397.1L1377,399L1377,400.9L1377.1,402.7L1377.2,404.5L1377.2,405.6L1377.2,406.1L1377.3,407.8L1377.3,409.6L1377.4,411.5L1377.4,413.4L1377.4,415.3L1377.4,417.3L1377.4,419.4L1377.5,421.4L1377.5,423.3L1377.5,425.3L1377.5,427.2L1377.5,429L1377.6,430.8L1377.6,432.4L1377.6,434L1377.7,435.4L1377.7,436.7L1377.8,437.8L1377.8,438.8L1377.9,439.3L1378,439.7L1378,439.5L1378.8,440.1L1380.9,440.4L1382.9,440.3L1383.7,441.1L1383.8,441.2L1384,440.4L1384.2,439.4L1384.3,438.2L1384.4,436.9L1384.5,435.2L1384.6,433.2L1384.7,431.1L1384.8,429L1384.8,426.9L1384.9,424.9L1385,423L1385,422L1385,421.4L1385.1,419.7L1385.2,418.1L1385.2,416.3L1385.2,414.6L1385.3,412.8L1385.3,411.1L1385.3,409.3L1385.4,407.5L1385.4,405.8L1385.4,404L1385.5,402.3L1385.5,400.6L1385.5,399L1385.6,397.4L1385.7,395.8L1385.7,394.4L1385.8,392.9L1385.9,391.6L1386,390.4L1386.2,389L1386.2,388.8L1387.1,388L1388.5,387.8L1388.7,387.8L1390.1,387.3L1391.6,387.1L1393.2,388.2L1394.8,388.7L1396.4,388.1L1398,388.9L1399.6,389.2L1401.2,390.2L1402.7,391.8L1404.1,392.4L1404.6,392.4L1405.4,392.7L1406.7,394.4L1407.9,396L1409.1,397.8L1410.2,399L1411.4,398.8L1412.6,399.5L1413.9,400.8L1414.4,401.3L1415.3,401.8L1416.7,402L1418.2,402.3L1419.8,402.7L1421.4,403.6L1423,403.5L1424.6,402.5L1426.2,402.6L1427.7,404.2L1429.2,405L1429.3,404.3L1430.8,404.2L1432.3,405.3L1433.8,406.4L1435.3,406.6L1436.8,407L1438.4,407.6L1439.9,408.4L1441.4,409.2L1442.9,410.3L1444.4,410L1445.8,409.7L1447.3,410.9L1448.8,412L1450.3,412L1451.8,412.3L1453.3,413.2L1453.8,413.3L1454.8,413.6L1456.3,414.3L1457.8,415.3L1459.3,416.2L1460.8,416.6L1462.3,417L1463.8,417L1465.3,417.1L1466.8,418.3L1466.9,418.7L1468.4,419.3L1469.9,419.9L1471.5,420.1L1473.1,420.7L1474.7,420.1L1476.3,419.9L1477.9,420.2L1479.5,420.6L1481.1,420.6L1482.7,420.4L1484.2,421L1485.8,421.5L1486.6,422.3L1487.3,422.4L1488.8,422.8L1490.3,423.7L1491.8,424.5L1493.3,424.8L1494.8,425.1L1496.3,425.4L1497.9,425.3L1498.1,425.5L1499.4,426.2L1501,426.1L1502.6,426.7L1504.2,427L1505.8,426.9L1507.4,427.5L1509,426.8L1510.6,426.9L1512.2,427.1L1513.8,427.2L1514.5,428.1L1515.4,428.9L1517,428.8L1518.6,427.4L1520.2,426.9L1521.8,427.8L1523.4,427.9L1525,427.8L1526.6,427.6L1527.6,426.8L1528.2,426.6L1530,426.8L1532,428L1534,428.2L1536,428.4L1537.8,429.3L1539.4,429.8L1540.6,430.1L1541.4,430.5L1541.6,431.3L1541.7,431.4L1541.8,432L1541.9,433.3L1542,434.4L1542.1,435.8L1542.2,437.3L1542.3,439L1542.4,440.9L1542.4,442.8L1542.5,444.7L1542.5,446.6L1542.6,448.6L1542.6,450.5L1542.6,452.3L1542.7,454L1542.7,454.8L1542.7,455.6L1542.8,457.4L1542.8,459.2L1542.8,461.2L1542.8,463.3L1542.8,465.4L1542.9,467.6L1542.9,469.7L1542.9,471.8L1542.9,473.8L1542.9,475.8L1542.9,477.6L1542.9,479.3L1543,480.9L1543,482.2L1543,483.2L1543.1,484.4L1543.1,484.9L1543.2,484.7L1543.2,485.1L1543.6,484.8L1545.3,483.8L1547.6,484.1L1549.4,484.8L1549.8,485.3L1549.9,485.2L1550,485L1550.1,484.3L1550.2,483.1L1550.3,482.1L1550.4,480.8L1550.4,479.2L1550.5,477.5L1550.5,475.7L1550.6,473.8L1550.6,471.8L1550.7,469.6L1550.7,467.5L1550.7,465.4L1550.7,463.3L1550.8,461.2L1550.8,459.2L1550.8,457.4L1550.9,455.6L1550.9,454.8L1550.9,454L1551,452.2L1551,450.2L1551,448.1L1551,446L1551.1,443.9L1551.1,441.8L1551.1,439.8L1551.1,437.9L1551.1,436.2L1551.2,434.7L1551.2,433.6L1551.3,432.5L1551.3,431.7L1551.4,431.5L1551.4,431.8L1552.1,432.2L1553.5,432.3L1555.4,432.9L1557.4,433.9L1559.4,435.1L1560.4,434.8L1561.1,434.9L1562.7,435.2L1564.3,435L1566,434.7L1567.6,433.8L1569.3,434.1L1570.9,435.1L1572.5,434.5L1574,434.2L1575.5,435.1L1576.8,435.7L1576.9,435.3L1578.4,435.7L1579.9,437.3L1581.1,439L1581.7,439.9L1581.7,439.9L1581.9,441.3L1582.1,442.9L1582.2,444.7L1582.3,446.6L1582.4,448.7L1582.4,450.8L1582.5,453L1582.5,455.1L1582.5,457.2L1582.6,459.3L1582.6,461.2L1582.7,462.9L1582.7,464.4L1582.8,465.8L1582.9,466.7L1583.1,467.6L1583.2,468.5L1583.4,468.4L1583.4,468.5L1584.7,468.4L1586.8,467.9L1588.9,468.2L1589.9,467.9L1589.9,468.2L1590.1,468.1L1590.3,467.4L1590.5,466.5L1590.6,465L1590.6,463.3L1590.7,461.4L1590.7,459.4L1590.8,457.2L1590.9,455.1L1590.9,453L1591.1,451L1591.2,449.2L1591.4,447.8L1591.6,446.7L1591.7,446.2L1592.8,444.7L1594.4,443.8L1594.9,443.8L1595.7,443.5L1597.1,443.4L1598.4,444.5L1599.8,445.3L1601.2,445.8L1602.6,447L1604,448.5L1605.4,449.6L1606.8,450.7L1608.2,451.5L1609.5,452.4L1610.9,453.7L1612.3,454.7L1612.9,454.5L1613.6,454.9L1615,456.4L1616.3,457.4L1617.6,458.1L1619,458.9L1620.3,459.3L1621.6,459.8L1622.9,460.3L1624.2,461.6L1625.5,463.9L1626.6,465.3L1626.8,464.6L1628,465.2L1629.3,466.9L1630.6,467.6L1632,467.7L1633.3,469.2L1634.6,470.7L1635.9,471.1L1637.1,472.7L1638.4,474L1639.6,474.8L1640.9,476.1L1642,476.9L1643.2,477.2L1644.3,478.6L1645.3,479.9L1646.2,480.8L1646.4,481.1L1647.3,481.9L1648.2,483.1L1649.1,484.5L1650,485.8L1650.8,487.3L1651.7,488.8L1652.5,490.3L1653.3,491.4L1654,492.8L1654.8,494.2L1655.6,495.8L1656.4,497.3L1656.7,497.3L1657.3,498.7L1658.1,500.1L1658.9,501L1659.7,502.3L1660.5,504L1661.3,505.8L1662.1,507.2L1662.9,508.5L1663.7,509.6L1664.5,511L1665.2,512.7L1666,513.8L1666.8,515.6L1667.5,517.1L1668.3,518.1L1668.6,519.1L1669,519.9L1669.8,521.1L1670.5,522.5L1671.3,524L1672,524.9L1672.7,526.1L1673.5,527.9L1674.2,529.1L1674.9,530.7L1675.6,532.3L1676.3,533.9L1677,535.3L1677.7,536.9L1678.4,538.1L1679.1,539.2L1679.1,539.5L1679.7,541L1680.4,542.5L1681,544L1681.7,545.4L1682.3,547L1682.9,548.6L1683.6,549.8L1684.2,550.9L1684.8,552.2L1685.4,553.7L1686.1,555.5L1686.7,557.4L1687.3,558.5L1688,560.2L1688.2,560.9L1688.6,561.3L1689.2,562.9L1689.9,564.9L1690.5,566.2L1691.2,567.3L1691.8,569L1692.4,570.5L1693.1,571.8L1693.7,573.4L1694.4,575L1695,576.3L1695.7,577.6L1696.3,579.3L1697,580.5L1697.4,581.5L1697.6,582.3L1698.3,583.8L1698.9,585.1L1699.6,586.5L1700.3,588.1L1701,589.3L1701.7,590.7L1702.4,592.3L1703,593.6L1703.7,594.9L1704.3,596.7L1705,598.5L1705.6,599.6L1705.7,599.9L1706.1,601.2L1706.7,602.8L1707.2,604.4L1707.7,605.4L1708.3,606.7L1708.8,608.6L1709.3,610.3L1709.7,611.6L1710.2,612.9L1710.7,614.5L1711.2,616.2L1711.7,617.7L1712.2,619.2L1712.7,620.9L1713.2,622.6L1713.6,623.8L1713.7,623.9L1714.2,625.2L1714.8,626.7L1715.3,628.4L1715.8,629.8L1716.4,631.3L1716.9,633.2L1717.4,634.5L1718,635.8L1718.5,637.4L1719.1,639.1L1719.6,640.5L1720.2,641.9L1720.7,643.5L1721.3,645L1721.5,645.8L1721.8,646.7L1722.3,648.3L1722.9,649.6L1723.4,651.1L1724,652.9L1724.5,654.3L1725,655.7L1725.6,657.4L1726.1,658.9L1726.7,660.2L1727.3,661.7L1727.8,663.1L1727.8,662.9L1728.4,664.4L1729,666L1729.6,667.6L1730.2,669.3L1730.8,670.8L1731.5,672.4L1732.1,673.8L1732.7,675L1733.3,676.4L1733.8,677.8L1734.1,678.7L1734.4,679.6L1734.9,681L1735.4,682.4L1735.9,684L1736.4,685.5L1736.9,687L1737.4,688.6L1737.9,690.1L1738.3,691.7L1738.8,693.1L1739.3,694.7L1739.7,696.6L1740.2,697.8L1740.4,698.5L1740.7,699.4L1741.1,700.9L1741.6,702.5L1742,703.9L1742.5,705.5L1742.9,706.8L1743.4,708.5L1743.8,710.2L1744.3,711.5L1744.7,713L1745.2,714.7L1745.6,716.2L1746,717.6L1746.5,719.4L1746.7,720.2L1746.9,721L1747.4,722.7L1747.8,724.2L1748.2,725.4L1748.7,727L1749.1,728.4L1749.5,729.7L1749.9,731.7L1750.4,733.3L1750.8,734.6L1750.9,735L1751.2,736.2L1751.7,737.8L1752.1,739.1L1752.5,740.5L1753,742.4L1753.4,744L1753.8,745.5L1754.3,746.8L1754.7,748.4L1755.2,750L1755.6,751.5L1756,753.1L1756.4,755L1756.8,756.5L1757.2,757.9L1757.6,759.6L1758,760.9L1758.1,761.1L1758.4,762.5L1758.8,764.1L1759.1,765.6L1759.5,767.1L1759.8,768.6L1760.2,770.3L1760.5,771.9L1760.9,773.3L1761.2,774.9L1761.5,776.6L1761.9,778.2L1762.2,779.5L1762.6,781.2L1762.9,783.1L1763.3,784.7L1763.6,785.9L1764,787.2L1764,787.5L1764.4,789.2L1764.7,790.7L1765.1,792.2L1765.5,793.8L1765.9,795.4L1766.3,796.8L1766.7,798.3L1767.1,799.8L1767.5,801.3L1767.9,803L1768.3,804.3L1768.7,805.8L1769.1,807.4L1769.5,809L1769.9,810.7L1770.3,812.4L1770.6,813.8L1770.6,813.7L1771,815.1L1771.4,816.9L1771.7,818.5L1772.1,820L1772.4,821.5L1772.8,822.9L1773.1,824.7L1773.5,826.4L1773.8,827.7L1774.2,829.3L1774.5,831L1774.9,832.6L1775.2,834L1775.6,835.6L1775.9,837.2L1776.2,838.9L1776.6,840.3L1776.9,841.8L1777.2,843.5L1777.6,845L1777.9,846.6L1778.2,848.2L1778.6,849.7L1778.9,851.2L1779.2,853L1779.6,854.5L1779.9,856L1780.2,857.7L1780.5,859.3L1780.9,860.8L1781.2,862.4L1781.5,863.9L1781.8,865.5L1782.2,867.1L1782.5,868.4L1782.8,870.1L1783.1,871.7L1783.3,872.4L1783.5,873.2L1783.8,874.9L1784.1,876.5L1784.4,878L1784.8,879.5L1785.1,881.2L1785.4,882.7L1785.7,884.3L1786,886L1786.3,887.5L1786.7,888.9L1787,890.4L1787.3,892L1787.6,893.6L1787.9,895.1L1788.2,896.8L1788.5,898.5L1788.8,900.2L1789.2,901.6L1789.5,903.2L1789.8,904.6L1790.1,906.3L1790.4,908.1L1790.7,909.5L1791,910.9L1791.3,912.5L1791.6,914.2L1791.9,915.7L1792.3,917.1L1792.6,918.8L1792.9,920.4L1793.2,921.9L1793.5,923.5L1793.8,924.9L1793.8,925.1L1794.1,926.8L1794.4,928.3L1794.8,929.7L1795.1,931.3L1795.4,932.9L1795.7,934.3L1796,935.9L1796.3,937.5L1796.6,939.1L1796.9,940.9L1797.2,942.5L1797.5,944L1797.8,945.5L1798.1,947.2L1798.4,948.9L1798.7,950.5L1799,952L1799.3,953.4L1799.6,955L1799.9,956.6L1800.3,958.1L1800.6,959.7L1800.9,961.2L1801.2,962.8L1801.5,964.4L1801.8,965.8L1802.2,967.4L1802.5,968.9L1802.8,970.5L1803.2,972.2L1803.5,973.7L1803.8,975.2L1804.2,976.7L1804.3,977.3L1804.5,978.5L1804.9,980L1805.2,981.5L1805.6,983.1L1805.9,984.7L1806.3,986.2L1806.7,987.9L1807,989.4L1807.4,990.9L1807.8,992.4L1808.2,994.2L1808.6,995.8L1809,997.2L1809.4,998.6L1809.7,999.9L1809.8,1000L1810.2,1001.5L1810.6,1003.3L1811,1004.9L1811.4,1006.3L1811.9,1008.2L1812.3,1009.6L1812.7,1011L1813.2,1012.6L1813.6,1014.1L1814.1,1015.6L1814.5,1017.1L1815,1018.8L1815.4,1020.4L1815.9,1021.7L1816.3,1023L1816.8,1024.6L1817.2,1026.2L1817.6,1027.8L1818,1029.5L1818.4,1031.1L1818.9,1032.5L1818.9,1032.8L1819.2,1034.1L1819.6,1035.7L1820,1037.5L1820.4,1039.1L1820.7,1040.5L1821.1,1041.9L1821.4,1043.6L1821.8,1045.2L1822.1,1046.6L1822.5,1048.3L1822.8,1050L1823.2,1051.5L1823.5,1053L1823.9,1054.6L1824.2,1056.2L1824.6,1057.6L1825,1059.2L1825.4,1060.9L1825.8,1062.3L1826.2,1063.8L1826.6,1065.6L1826.7,1065.8L1827.1,1066.7L1827.5,1068.2L1828,1070L1828.5,1071.4L1829,1073L1829.5,1074.6L1830,1076L1830.6,1077.7L1831.1,1079.2L1831.7,1080.8L1832.2,1082.2L1832.8,1083.6L1833.3,1085.1L1833.9,1086.5L1834.5,1088.1L1835,1089.7L1835.6,1091.1L1835.9,1092.1L1836.1,1092.8L1836.7,1094.4L1837.2,1096L1837.8,1097.3L1838.4,1098.5L1838.9,1100L1839.5,1101.7L1840.1,1103.1L1840.6,1104.5L1841.2,1106L1841.8,1107.3L1842.4,1108.8L1843,1110.1L1843.6,1111.8L1844.2,1113.6L1844.8,1114.9L1845.1,1115.6L1845.5,1116.3L1846.1,1117.9L1846.7,1119.2L1847.3,1120.5L1847.9,1122L1848.6,1123.4L1849.2,1125.3L1849.9,1126.6L1850.5,1127.9L1851.2,1129.6L1852,1131L1852.7,1132.4L1853.5,1133.8L1854.3,1135.2L1854.3,1135.1L1855.2,1136.5L1856.1,1137.9L1857.1,1139L1858.1,1139.8L1859.2,1141.3L1860.3,1142.6L1861.5,1143.9L1862.2,1144.4L1862.8,1144L1864.2,1145.5L1865.8,1146.5L1867.3,1146.3L1868.1,1147.1L1868.6,1147L1870,1146.2L1871.2,1145L1872.3,1143.3L1872.7,1143L1873.2,1141.8L1874.1,1140.5L1874.8,1139.4L1875.6,1138L1876.3,1136.6L1876.9,1135.3L1877.5,1133.7L1878.1,1131.9L1878.6,1130.6L1879.1,1129.2L1879.2,1128.6L1879.5,1127.3L1880,1125.5L1880.4,1124.1L1880.8,1122.7L1881.2,1121.3L1881.6,1120L1881.9,1118.3L1882.3,1116.4L1882.6,1115L1882.9,1113.5L1883.2,1112L1883.5,1110.3L1883.8,1108.6L1884.1,1107.2L1884.4,1105.7L1884.5,1104.9L1884.7,1103.9L1884.9,1102.5L1885.2,1100.8L1885.5,1099.3L1885.7,1097.8L1886,1096.2L1886.2,1094.5L1886.4,1093L1886.7,1091.5L1886.9,1089.7L1887.1,1088.1L1887.3,1086.5L1887.5,1085L1887.8,1083.5L1888,1081.9L1888.2,1080.1L1888.4,1078.6L1888.4,1078.7L1888.6,1077.1L1888.8,1075.5L1889,1073.9L1889.2,1072.2L1889.4,1070.6L1889.7,1069.1L1889.9,1067.5L1890.1,1066L1890.3,1064.5L1890.4,1062.8L1890.6,1061.2L1890.8,1059.7L1891,1058L1891.2,1056.5L1891.4,1054.8L1891.6,1053L1891.7,1052.4L1891.8,1051.6L1892,1050.1L1892.2,1048.6L1892.4,1046.9L1892.6,1045.3L1892.8,1043.8L1893,1042.2L1893.2,1040.6L1893.3,1039L1893.5,1037.3L1893.7,1035.7L1893.9,1034.1L1894.1,1032.5L1894.3,1030.9L1894.4,1029.3L1894.6,1027.8L1894.8,1026.1L1894.9,1024.6L1895,1024L1895.1,1023.1L1895.2,1021.5L1895.4,1019.9L1895.5,1018.4L1895.7,1016.8L1895.8,1015.2L1896,1013.6L1896.1,1012L1896.2,1010.3L1896.4,1008.7L1896.5,1007.2L1896.6,1005.6L1896.8,1003.9L1896.9,1002.4L1897,1000.8L1897.1,999.1L1897.3,997.4L1897.4,995.9L1897.5,994.4L1897.6,992.8L1897.8,991.2L1897.9,989.6L1898,987.9L1898.1,986.3L1898.2,984.7L1898.4,983.2L1898.5,981.6L1898.6,980L1898.7,978.4L1898.8,977.5L1898.9,976.8L1899,975.2L1899.1,973.7L1899.2,972.1L1899.4,970.4L1899.5,968.8L1899.6,967.2L1899.7,965.6L1899.8,964L1900,962.4L1900.1,960.8L1900.2,959.2L1900.3,957.6L1900.5,956L1900.6,954.4L1900.7,952.8L1900.8,951.2L1900.9,949.7L1901.1,948.1L1901.2,946.5L1901.3,944.8L1901.4,943.3L1901.5,941.7L1901.6,940.1L1901.8,938.5L1901.9,936.9L1902,935.3L1902.1,933.7L1902.2,932.1L1902.3,930.5L1902.4,928.8L1902.5,927.3L1902.7,925.7L1902.7,925L1902.8,924.1L1902.9,922.5L1903,921L1903.1,919.4L1903.2,917.7L1903.3,916.2L1903.4,914.7L1903.5,913L1903.6,911.4L1903.7,909.7L1903.8,908.1L1903.9,906.5L1904,904.9L1904.1,903.3L1904.2,901.7L1904.3,900.2L1904.4,898.6L1904.5,897L1904.6,895.3L1904.7,893.8L1904.8,892.2L1904.9,890.6L1905,889L1905.1,887.4L1905.2,885.8L1905.3,884.2L1905.4,882.6L1905.5,881L1905.6,879.3L1905.7,877.8L1905.8,876.2L1905.9,874.5L1906,872.9L1906,872.4L1906.1,871.4L1906.2,869.8L1906.3,868.1L1906.4,866.6L1906.5,865L1906.6,863.4L1906.7,861.8L1906.8,860.1L1906.9,858.6L1907,857L1907.1,855.3L1907.2,853.8L1907.3,852.1L1907.4,850.6L1907.5,849L1907.6,847.5L1907.7,845.9L1907.8,844.3L1907.9,842.7L1908,841.1L1908.1,839.4L1908.2,837.8L1908.3,836.2L1908.3,834.6L1908.4,833L1908.5,831.4L1908.6,829.8L1908.7,828.3L1908.7,826.7L1908.8,825L1908.8,825L1908.9,823.5L1908.9,821.9L1909,820.3L1909,818.7L1909.1,817.1L1909.2,815.5L1909.2,813.9L1909.3,812.3L1909.3,810.7L1909.3,809.1L1909.4,807.5L1909.4,805.9L1909.5,804.3L1909.5,802.7L1909.6,801.1L1909.6,799.5L1909.7,797.9L1909.7,796.3L1909.8,794.6L1909.8,793L1909.9,791.4L1909.9,789.8L1910,788.2L1910,786.6L1910.1,785L1910.1,783.4L1910.2,781.8L1910.2,780.9L1910.2,780.2L1910.3,778.6L1910.3,777L1910.4,775.4L1910.5,773.9L1910.5,772.3L1910.6,770.7L1910.7,769.1L1910.7,767.5L1910.8,765.8L1910.9,764.2L1910.9,762.6L1911,761L1911.1,759.5L1911.1,757.9L1911.2,756.3L1911.3,754.6L1911.4,753L1911.4,751.5L1911.5,749.9L1911.6,748.3L1911.7,746.7L1911.7,745.1L1911.8,743.5L1911.9,741.9L1912,740.3L1912,738.7L1912.1,737.1L1912.2,735.5L1912.2,735L1912.3,733.9L1912.3,732.3L1912.4,730.7L1912.5,729.1L1912.6,727.5L1912.6,725.9L1912.7,724.3L1912.8,722.7L1912.9,721.1L1912.9,719.5L1913,717.9L1913.1,716.3L1913.2,714.7L1913.3,713.1L1913.4,711.5L1913.4,710L1913.5,708.3L1913.6,706.7L1913.7,705.1L1913.8,703.5L1913.8,701.9L1913.9,700.3L1914,698.7L1914.1,697.1L1914.2,695.5L1914.2,693.9L1914.3,692.3L1914.4,690.7L1914.5,689.1L1914.6,687.5L1914.6,685.9L1914.7,684.3L1914.8,682.7L1914.8,682.4L1914.9,681.1L1914.9,679.5L1915,677.9L1915.1,676.3L1915.2,674.7L1915.3,673.1L1915.4,671.5L1915.4,669.9L1915.5,668.3L1915.6,666.7L1915.7,665L1915.8,663.4L1915.8,661.8L1915.9,660.3L1916,658.7L1916.1,657.1L1916.2,655.5L1916.2,653.9L1916.3,652.3L1916.4,650.7L1916.5,649.1L1916.5,647.5L1916.6,645.9L1916.7,644.3L1916.7,642.7L1916.8,641.1L1916.9,639.5L1916.9,637.9L1917,636.3L1917,635L1917,634.7L1917.1,633.1L1917.1,631.5L1917.1,629.9L1917.2,628.3L1917.2,626.7L1917.3,625.1L1917.3,623.5L1917.3,621.9L1917.4,620.3L1917.4,618.7L1917.4,617.1L1917.5,615.5L1917.5,613.9L1917.5,612.3L1917.5,610.7L1917.6,609.1L1917.6,607.5L1917.6,605.9L1917.7,604.3L1917.7,602.7L1917.7,601.1L1917.8,599.5L1917.8,597.9L1917.8,596.3L1917.9,594.7L1917.9,593.1L1917.9,591.5L1918,589.9L1918,588.3L1918,586.7L1918.1,585.1L1918.1,584.4L1918.1,583.5L1918.2,581.9L1918.2,580.3L1918.3,578.7L1918.3,577.1L1918.4,575.5L1918.4,573.9L1918.5,572.3L1918.5,570.7L1918.6,569.1L1918.6,567.5L1918.7,565.9L1918.8,564.3L1918.8,562.7L1918.9,561.1L1918.9,559.5L1919,557.9L1919.1,556.4L1919.1,554.8L1919.2,553.1L1919.2,551.5L1919.3,549.9L1919.4,548.3L1919.4,546.7L1919.5,545.1L1919.6,543.5L1919.6,541.9L1919.7,540.3L1919.7,538.7L1919.8,537.1L1919.9,535.5L1919.9,533.9L1920,532.3L1920,531.9L1920,530.7L1920.1,529.1L1920.2,527.5L1920.2,525.9L1920.3,524.3L1920.3,522.7L1920.4,521.1L1920.5,519.5L1920.5,518L1920.6,516.3L1920.6,514.7L1920.7,513.1L1920.7,511.6L1920.8,509.9L1920.9,508.3L1920.9,506.7L1921,505.1L1921,503.5L1921.1,501.9L1921.2,500.3L1921.2,498.7L1921.3,497.1L1921.3,495.5L1921.4,493.9L1921.5,492.4L1921.5,490.7L1921.6,489.1L1921.7,487.6L1921.7,485.9L1921.8,484.3L1921.9,482.7L1921.9,481.1L1922,479.5L1922,479.4L1922.1,478L1922.1,476.4L1922.2,474.7L1922.3,473.1L1922.4,471.5L1922.5,469.9L1922.5,468.3L1922.6,466.7L1922.7,465L1922.8,463.5L1922.9,461.9L1923,460.3L1923,458.7L1923.1,457.2L1923.2,455.6L1923.3,454L1923.4,452.3L1923.5,450.8L1923.5,450L1923.5,449.2L1923.6,447.5L1923.7,445.9L1923.8,444.4L1923.8,442.7L1923.9,441.2L1924,439.5L1924.1,437.9L1924.1,436.4L1924.2,434.8L1924.3,433.2L1924.4,432.4L1924.5,431.6L1924.6,429.9L1924.7,428.3L1924.9,426.7L1925.1,425.2L1925.3,423.6L1925.4,422L1925.7,420.4L1925.9,418.7L1926.1,417.3L1926.3,415.7L1926.6,414.1L1926.8,412.5L1927.1,411L1927.4,409.5L1927.6,407.9L1927.8,406.9L1927.9,406.3L1928.2,404.7L1928.5,403.3L1928.8,401.6L1929.2,400L1929.5,398.4L1929.9,396.7L1930.3,395.4L1930.8,393.8L1931.2,392.1L1931.7,390.6L1932,389.7L1932.2,389.2L1932.8,387.9L1933.4,386.2L1934,384.5L1934.7,382.8L1935.5,381.5L1936.3,380.3L1937.2,378.5L1938.2,377.5L1938.9,377.1L1939.2,376.7L1940.5,375.3L1942.1,374.7L1943.6,375L1944,374.6L1945.1,373.9L1946.7,374L1948.2,374.8L1949.8,374.2L1951.4,373.5L1953,374.3L1954.6,374.6L1956.3,374.6L1957.9,375L1959.5,375.3L1961.2,375.5L1962.8,375.4L1964.4,375.4L1965.3,374.7L1966,373.4L1967.6,373.8L1969.2,374.9L1970.8,375L1972.4,374.6L1974,375.2L1975.6,375L1977.2,374.8L1978.8,375.8L1980.4,376L1982,376.5L1983.6,376.5L1985.2,376.3L1986.8,376.1L1988.4,376.3L1990,376.6L1990.9,376.6L1991.6,376.1L1993.2,375.3L1994.8,375.7L1996.4,376.5L1998,376L1999.6,375.4L2001.2,375.9L2002.8,376.4L2004.4,376.6L2006,376.8L2007.6,376.6L2008,376.3L2009.2,376.8L2011,376.4L2012.9,376.8L2014.8,376.7L2016.7,375.9L2018.5,375.3L2020.3,375.1L2021.8,375.5L2023.2,375L2024.3,375.1L2025,374.7L2025.1,374.7L2025.7,373.9L2026.3,372.7L2026.8,371.8L2027.2,370L2027.5,367.9L2027.6,365.8" stroke="#ED7D31" stroke-width="4.4"/>
<path d="M384.5,455.9 L384.5,344.3 L384.8,345.8L386.1,346.7L387.5,347.3L388.8,348.5L390.2,349.2L391.6,350L392.9,351.1L393.3,350.8L394.4,351.6L395.9,353.1L397.4,353.2L398.9,353.6L400.2,354.7L401.2,355.2L401.5,355.2L402.5,356.2L403.5,357.9L404.5,359.4L405.1,359.5L405.8,358.9L407.4,359.3L409.1,359.8L410.4,359.1L410.6,359.7L411.8,360.3L412.9,360.5L413.9,362.1L414.8,363.6L415.9,365.6L416.9,367.3L417,367.1L418.4,368.3L419.8,368.8L421.3,369.3L422.7,369.9L423.5,370.2L423.8,370.7L424.8,372.3L425.6,374.3L426.5,375.2L427.3,376.4L428.2,377.7L428.7,378.3L429.1,378.6L430.3,379.2L431.5,379.9L432.7,381.5L433.9,383.6L435.1,384.6L436.1,385.2L436.6,386.3L437,387.1L437.7,388.2L438.4,389.7L439,391.2L439.6,392.6L440.2,394L440.8,395.7L441.5,397.4L441.9,398.5L442.2,399L442.9,399.9L443.7,401.3L444.5,403.3L445.3,404.5L446.1,405.4L446.9,406.5L447.8,407.8L448.7,409.3L449.6,410.6L449.7,411.2L450.5,412.5L451.6,413.4L452.7,415L453.8,416.5L454.9,417.3L455.8,418.3L456.3,419.2L456.6,419.7L457.3,420.7L458,422.3L458.6,424.3L459.1,425.8L459.7,427.1L460.2,428.6L460.7,430.1L461.3,431.7L461.5,432.5L461.9,433.7L462.4,435.1L463,436.5L463.6,437.9L464.1,439.3L464.7,440.6L465.2,442L465.8,443.5L466.3,445.3L466.8,446.9L466.8,446.6L467.3,448L467.8,449.5L468.3,451.2L468.7,452.8L469.2,454.2L469.6,455.7L470.1,457.4L470.5,459L471,460.6L471.5,462.2L471.9,463.6L472.4,464.9L472.4,465L472.9,466.7L473.4,468.2L473.9,469.5L474.4,470.9L474.9,472.6L475.4,474L475.9,475.4L476.5,477.2L477,478.7L477.5,480L478,481.7L478.5,483.3L479,484.8L479.6,486.5L480.1,488.1L480.6,489.5L480.7,489.9L481.1,491.1L481.6,492.4L482.1,493.8L482.6,495.3L483.1,496.9L483.7,498.4L484.2,499.7L484.7,501.4L485.2,502.9L485.7,504.3L486.2,506L486.6,507.7L487.1,509.2L487.2,509.6L487.6,510.6L488,512.1L488.4,513.7L488.9,515.3L489.3,516.8L489.7,518.3L490.1,519.7L490.5,521.3L490.9,522.8L491.3,524.4L491.7,526.2L492.1,527.9L492.5,529.4L492.5,529.3L492.9,530.7L493.4,532.5L493.8,534.1L494.2,535.4L494.6,536.9L495,538.7L495.4,540L495.8,541.5L496.2,543.3L496.6,544.7L497,546.2L497.5,547.7L497.7,548.5L497.9,549.2L498.3,550.8L498.7,552.5L499.2,554.1L499.6,555.5L500,557L500.5,558.7L500.9,560.3L501.3,561.6L501.7,563.2L502.1,564.8L502.5,566.3L502.9,567.9L503,568.5L503.2,569.5L503.6,570.8L503.9,572.2L504.2,574L504.5,575.7L504.8,577.4L505.1,579L505.4,580.5L505.6,582.2L506,583.7L506.3,585L506.6,586.8L506.9,588.2L506.9,588.2L507.3,590L507.7,591.5L508.1,592.8L508.5,594.4L508.9,595.9L509.4,597.2L509.8,598.8L510.2,600.6L510.7,602.2L511.1,603.7L511.5,605.1L511.9,606.6L512.2,607.4L512.4,608.1L512.8,609.8L513.1,611.4L513.5,613L513.9,614.6L514.3,616.1L514.7,617.7L515.1,619.3L515.5,620.9L515.9,622.5L516.3,624.2L516.8,625.7L517.2,627L517.4,627.5L517.7,628.5L518.3,630.2L518.9,631.6L519.5,633L520.2,634.7L520.9,636.1L521.5,637.4L522.2,639L522.8,640.6L523.4,642L524,643.5L524,643.6L524.5,645L525,646.4L525.4,648.2L525.8,649.9L526.2,651.2L526.7,652.9L527.4,654.6L527.9,655.3L528.1,655.3L529.5,656.5L531.1,657.2L531.9,656.8L532.6,656.3L534,655.5L535.4,654.8L536.7,653.5L537.1,653.4L537.7,652.9L538.7,651.9L539.6,650.5L540.4,648.7L541.2,647.4L541.8,646.1L542.4,644.8L542.4,644.8L542.9,643L543.3,641.5L543.8,640.3L544.2,638.7L544.5,636.9L544.9,635.3L545.2,633.7L545.5,632.1L545.8,630.5L546.1,629L546.3,627.6L546.3,627.3L546.6,625.7L546.8,624.3L547,622.6L547.2,621L547.4,619.3L547.6,617.8L547.8,616.2L548,614.5L548.2,612.9L548.4,611.4L548.6,609.9L548.8,608.3L548.9,607.8L549.1,606.7L549.4,605L549.6,603.6L549.9,602.1L550.3,600.5L550.6,599L550.9,597.4L551.3,595.7L551.6,594.3L551.9,592.9L552.3,591.2L552.6,589.6L552.9,588.1L552.9,587.8L553.3,586.3L553.6,584.6L553.9,583.1L554.2,581.7L554.5,580.1L554.8,578.5L555.1,577L555.5,575.3L555.8,573.5L556.1,571.9L556.5,570.3L556.9,568.9L557.3,567.5L557.7,565.8L558.1,564.2L558.1,564.6L558.6,563.1L559.1,561.2L559.7,559.8L560.3,558.4L560.9,556.9L561.5,555.2L562.2,553.5L562.9,552.3L563.5,551L564.2,549.3L564.7,548.6L564.9,548.5L565.7,546.8L566.4,545.1L567.1,543.7L567.9,542.1L568.7,540.3L569.5,539.1L570.4,537.7L571.3,536.5L572.3,535.4L572.5,535.1L573.5,534.8L574.9,534.6L576.3,533.6L577.8,532L579.1,531.3L579.2,531.3L580.4,530.2L581.5,529.5L582.5,528.5L583.6,527.6L584.7,526.1L585.8,525.4L587,525.6L587.1,524.9L588.4,522.9L589.9,522.4L591.4,522.5L592.9,521.1L594.5,520.5L596.1,520.7L597.5,519.9L597.6,520L599.2,520.3L600.8,519.6L602.4,519L604,518.7L605.6,518.1L607.1,518L608.7,518.2L609.3,517.9L610.2,516.7L611.7,516.7L613.2,516.3L614.7,515.5L616.1,515.9L617.6,515L619,513.3L620.3,512L621.1,512.1L621.6,512.2L622.8,511L623.9,510.1L625,508.8L626.1,507.2L627.2,505.7L628.3,503.8L629,502.9L629.4,503.1L630.5,502.2L631.6,501.1L632.6,499.8L633.7,498.4L634.7,497.4L635.8,496L636.9,494.5L638,493.2L639.2,492.5L640,492.4L640.4,492L641.6,491.6L642.9,491L644.2,489.8L645.6,488.9L647,487.8L648.4,487L649.8,486.8L651.3,485.4L652.7,485.2L654.2,484.9L655.7,484L657.2,483.4L658.7,482.9L660.2,482.8L661.7,481.5L663.2,479.8L664.7,479.4L666.2,479.5L667.6,478.7L668.1,478L669.1,477.8L670.5,476.4L672,475.3L673.5,475.2L675,475L676.5,474.6L678,473.6L679.5,473.1L681,472.4L682.4,471.9L683.9,471.4L685.3,470.6L686.8,469.8L688.2,469.5L689.1,469.1L689.6,468.8L691,468.2L692.3,467L693.7,466.2L695,465.7L696.3,464.7L697.7,463.6L699,462.5L700,462.2L700.3,462.9L701.5,461.5L702.8,460.1L704,459.2L705.3,458.2L706.5,457.3L707.7,456.3L708.9,454.3L710.1,452.8L711.4,452.3L712.6,451.4L713.8,450.5L715.1,449.3L716.4,448.8L717.7,448.7L719,446.7L719,445.9L720.4,446L721.7,445.2L723.2,444.2L724.6,442.9L726,442L727.5,442L728.9,442.1L730.4,441.2L731.9,439.9L733.3,439.3L734.3,439L734.8,438.8L736.2,438.2L737.7,437L739.1,436.2L740.6,435.3L742,434.9L743.5,435.1L745,434L746.4,433.2L747.9,432.9L749.4,432.7L749.5,433.3L751,432.3L752.5,431.9L754,431.3L755.6,430.2L757.2,429.6L758.7,429.4L760.3,429.1L761.9,428.8L763.5,428.3L765,428.2L766.6,428.5L768.2,427.9L769.8,426.8L770.4,427.3L771.4,428.2L773,427.8L774.6,426.8L776.2,426.9L777.8,427.9L779.4,427.1L781,426.6L782.6,427.2L784.2,426.6L785.8,426.7L787.4,426.3L789,426L790.6,426.7L792.2,426.5L793.8,425.5L795.2,424.8L795.4,424.7L797,424.7L798.6,425.9L800.2,426.6L801.8,425.8L803.4,425.7L805,426L806.6,426.6L808.2,426.9L809.8,428L811.4,428.5L813,427.7L814.6,428.2L816.1,429.2L817.7,429.7L818,428.9L819.3,428.7L820.9,429.1L822.5,429.5L824,429.9L825.6,429.7L827.2,429.5L828.7,430.2L830.3,430.5L831.9,431.2L833.4,431.8L835,431.2L836.6,431.2L837.1,431.4L838.2,431.8L839.7,432.8L841.3,432.8L842.9,432.3L844.5,433.4L846.1,434.5L847.7,434.6L849.3,435L850.9,435L852.5,435.2L854.1,435L855.6,434.8L856.1,434.8L857.2,434.2L858.8,434.5L860.4,434.7L862,433.3L863.5,432.2L865.1,432.5L866.7,432.9L867.5,432.4L868.2,431.9L869.7,431.7L871.2,433L872.7,434.4L874.2,434.7L875.7,435.6L877.2,436.5L878.7,437.4L880.2,437.7L881.7,438.4L883.2,438.9L884.7,439.3L884.8,439L886.3,438.3L887.9,438.7L889.5,439.1L891.1,438.5L892.7,437.4L894.3,436.9L895.9,436.6L897.5,437L899.1,437.5L899.9,437.2L900.7,437L902.3,436.4L903.9,436.8L905.5,437.7L907.1,437.6L908.7,437.1L910.3,437.5L911.9,437.5L913.5,437.6L915.1,437.7L916.6,437.4L918.2,438.1L918.9,438.8L919.8,439.5L921.3,439.7L922.9,439.5L924.4,439.6L925.9,439.4L927.5,439.7L929,441L930.5,441.6L932.1,442.2L933.6,443.5L934.2,443.1L935.2,443.4L936.8,443.9L938.3,443.9L939.9,444L941.5,444.1L943.1,444L944.7,444L946.3,444.2L947.9,444L949.4,444.3L949.5,444.4L951.1,444L952.6,444L954.2,443.9L955.7,442.7L957.3,442.1L958.9,442.5L960.4,441.7L962,441.3L963.5,440.9L965.1,441.3L966.5,441.8L966.7,441.3L968.3,441.8L969.9,441.9L971.5,441.8L973.1,441.5L974.7,441.2L976.3,441.1L977.9,441.3L979.5,442.2L981.1,442.4L982.7,442.4L984.3,442L985.9,441.4L987.5,441.7L989.1,442.3L990.7,442.7L991.3,442.5L992.3,442.6L993.8,442.3L995.4,441.6L996.9,441.6L998.5,440.8L1000,439.7L1001.5,439.8L1003.1,439.2L1004.6,438.4L1006.1,437.7L1007.7,437.7L1008.4,437L1009.2,435.7L1010.8,435.8L1012.4,436.4L1013.9,436.5L1015.5,435.5L1017.1,434.5L1018.6,434.4L1020.2,434.4L1021.8,433.7L1023.3,432.7L1024.9,432.2L1026.5,432.5L1028.1,432.8L1029.7,432.7L1031.2,432.5L1032.8,431.9L1033.1,432.1L1034.4,432.5L1036,432.7L1037.6,433.1L1039.2,432.7L1040.8,432L1042.4,432.4L1044,432.8L1045.6,432.1L1047.2,431L1048.8,431.3L1050.4,432.8L1052,433.4L1053.6,433L1055.2,432.5L1056.8,432.6L1058.4,433.2L1060,433L1061.6,432.7L1061.7,432.8L1063.2,432.9L1064.8,432.7L1066.4,432.7L1068,433.1L1069.6,432.8L1071.2,433.1L1072.8,433.6L1074.4,432.9L1076,432.9L1077.7,433.9L1079.3,433.5L1080.9,433.9L1082.5,434.2L1084.1,433.9L1085.7,433.4L1087.3,432.4L1088.9,432.8L1090.5,433.7L1092.1,433.3L1093.7,433L1095.3,432.8L1096.9,432.1L1098.5,432.4L1099.8,433.7L1100.1,433.3L1101.7,432.5L1103.3,432.4L1104.9,432.5L1106.5,433.5L1108.1,432.9L1109.7,432.3L1111.3,433.1L1113,433L1114.6,431.9L1116.2,431.3L1117.8,430.8L1119.3,431.3L1120.9,431.7L1122.5,431.7L1124,432.2L1124.6,431.5L1125.6,430.9L1127.1,431.2L1128.6,431.1L1130.1,430.4L1131.6,429.2L1133,428.8L1134.5,428.5L1136,426.7L1137.4,425.9L1138.9,425.9L1140.4,426L1141.8,424.8L1143.3,422.9L1144.8,422.9L1146.3,423L1147.8,421.7L1149.2,420.9L1149.3,420.7L1150.9,421.3L1152.5,421.3L1154,420.2L1155.6,419.7L1157.2,420.2L1158.8,419.9L1160.4,419.3L1162,419.4L1163.6,419.2L1165.2,418.7L1165.6,418.8L1166.8,419.8L1168.4,419.5L1170.1,418.6L1171.7,418.1L1173.3,418.4L1174.8,418.7L1175.4,418.5L1176.3,418.7L1177.8,418.6L1179.2,419.6L1180.6,421L1181.9,421.9L1183.2,423.1L1184.4,424.5L1185.3,425.4L1185.5,425.2L1186.5,426.7L1187.5,428L1188.5,429L1189.4,430.1L1190.3,431.8L1191.1,433.3L1191.9,434.6L1192.6,436.3L1193.2,437.8L1193.5,438.5L1193.8,439.3L1194.3,440.6L1194.8,442L1195.3,443.6L1195.8,445.2L1196.2,446.9L1196.6,448.3L1197,450L1197.4,451.6L1197.8,453L1198.1,454.5L1198.5,456.1L1198.8,457.9L1199.2,459.4L1199.5,460.9L1199.9,462.4L1200,462.9L1200.2,464L1200.6,465.5L1200.9,467.1L1201.2,468.6L1201.6,470.3L1201.9,471.9L1202.2,473.4L1202.5,475L1202.8,476.7L1203.1,478.3L1203.4,479.8L1203.7,481.3L1204,482.8L1204.3,484.4L1204.6,485.9L1204.9,487.4L1205.2,489.1L1205.5,490.7L1205.9,492.3L1206.2,493.8L1206.5,495.2L1206.6,495.7L1206.9,497L1207.2,498.6L1207.5,500.2L1207.9,501.7L1208.2,503.3L1208.6,504.9L1208.9,506.4L1209.3,507.9L1209.6,509.7L1210,511.3L1210.4,512.6L1210.7,514.2L1211.1,515.7L1211.5,517.2L1211.9,519L1212.3,520.7L1212.7,521.9L1213.1,523.3L1213.2,523.9L1213.6,525L1214,526.5L1214.4,528.3L1214.8,530L1215.2,531.6L1215.7,533.3L1216.2,534.5L1216.8,536L1217.4,537.7L1218.1,538.8L1218.2,539.4L1219.4,540.3L1221,540.5L1222.2,540.6L1222.4,540.7L1223.5,540.2L1224.5,538.5L1225.4,536.5L1226.2,534.8L1226.3,534.9L1226.7,534.2L1227.3,532.6L1227.8,531.1L1228.2,529.7L1228.7,528.2L1229.1,526.7L1229.5,525.2L1229.8,523.8L1230.2,522.3L1230.5,520.5L1230.8,518.8L1231.1,517.3L1231.4,515.8L1231.7,514.1L1232,512.5L1232.3,510.9L1232.6,509.2L1232.9,507.4L1232.9,507.1L1233.1,505.8L1233.4,504.4L1233.7,502.7L1234,501.1L1234.2,499.6L1234.5,498L1234.7,496.4L1234.9,494.9L1235.2,493.3L1235.4,491.6L1235.6,490.2L1235.9,488.7L1236.1,487L1236.3,485.3L1236.5,483.8L1236.7,482.2L1236.9,480.7L1237.1,479.1L1237.4,477.5L1237.6,475.8L1237.8,474.2L1238,472.8L1238.2,471.2L1238.4,469.6L1238.7,468L1238.9,466.4L1239.1,464.7L1239.4,463.1L1239.4,462.9L1239.6,461.5L1239.9,459.9L1240.1,458.4L1240.3,457L1240.6,455.4L1240.8,453.8L1241,452.1L1241.3,450.5L1241.5,448.9L1241.7,447.3L1242,445.8L1242.2,444.3L1242.4,442.7L1242.7,441.1L1242.9,439.4L1243.2,437.8L1243.4,436.3L1243.7,434.8L1243.9,433L1244.2,431.3L1244.5,429.7L1244.8,428.2L1245.1,426.8L1245.4,425.3L1245.7,423.7L1246,422.2L1246,422.1L1246.3,420.6L1246.6,419L1247,417.3L1247.3,415.5L1247.6,414L1248,412.7L1248.3,411.1L1248.7,409.3L1249.1,407.9L1249.5,406.4L1250,404.7L1250.4,403.3L1250.9,401.8L1251.4,400.2L1252,398.5L1252.5,397.1L1252.5,397.2L1253.2,395.9L1254,394.7L1254.8,393.5L1255.7,392.1L1256.7,390.7L1257.8,389.2L1258.8,387.9L1259.9,387.1L1260.7,386L1261,385.3L1262.1,384.2L1263.2,382.9L1264.4,381.9L1265.7,381.2L1267,379.8L1268.3,378.7L1269.6,378.4L1271,378L1272.2,377.5L1272.4,377.1L1273.8,376.1L1275.2,375.5L1276.7,375.3L1278.3,375.6L1279.8,375.1L1281.4,374.2L1283,373.6L1284.6,371.9L1286.1,370.9L1287.7,371.1L1288.6,371.6L1289.3,372.4L1290.9,371.6L1292.5,371L1294,371.4L1295.7,371.2L1297.3,370.7L1298.9,370.6L1300.5,371.1L1302.1,371L1303.7,371.1L1305.3,371.6L1306.9,371.5L1308.5,372.1L1310.1,371.7L1311.7,370.9L1313.2,371.4L1313.3,371.2L1314.9,370.8L1316.4,371.2L1318,371.7L1319.6,371.5L1321.1,371.6L1322.7,372.6L1324.2,373.7L1325.8,373.2L1327.3,373.7L1328.8,375.2L1330.4,374.9L1331.9,374.7L1333.5,375.8L1335,376.8L1336.5,377.3L1337.8,378.2L1338.1,378.2L1339.6,378.3L1341.2,379L1342.7,379.6L1344.3,380.4L1345.8,381.1L1347.4,380.9L1348.9,380.6L1350.4,381.8L1352,382.6L1353.5,382.3L1355.1,382.2L1356.6,382.8L1358.1,383.4L1359.6,383.5L1361.1,383.9L1362.4,384.3L1362.6,384.9L1364.1,385.2L1365.6,385.5L1367,386.7L1368.5,387.3L1369.9,387.6L1371.4,388.5L1372.8,389.2L1374.2,390.6L1375.7,391.6L1377.1,392.5L1378.6,394L1380,394.1L1380,394L1381.5,394.7L1382.9,394.7L1384.4,395.1L1385.9,395.8L1387.4,396.5L1388.8,397.4L1390.3,397.5L1391.8,397.8L1393.2,399.1L1394.7,400.4L1396.1,400.2L1396.4,400.5L1397.5,401.8L1398.9,402.6L1400.2,403.3L1401.6,403.4L1403,404.4L1404.3,405.9L1405.6,406.8L1407,406.7L1408.3,407.8L1409.6,408.9L1411,409.2L1412.3,410.2L1413.7,410.9L1415.1,411.7L1416.5,412.8L1417.7,413.7L1417.9,414.2L1419.4,415L1420.9,415L1422.4,415.6L1423.9,416.9L1425.4,417.7L1427,417.8L1428.5,418.1L1430.1,418.8L1431.6,419.5L1433.2,420.2L1434.7,420.1L1436.3,419.9L1437.8,421L1439.3,422.1L1440.8,422.6L1442.3,421.8L1442.3,421.2L1443.7,421.5L1445.1,422.5L1446.4,424.4L1447.8,425L1449.2,425.8L1450.5,427L1451.9,427.8L1453.3,428.4L1453.8,428.9L1454.8,429.2L1456.3,429.9L1457.7,430.5L1459.2,430.7L1460.7,431.6L1462.2,432.7L1463.7,433L1465.2,433.5L1466.8,434.4L1468.3,434.1L1469.9,434.2L1471.4,434.9L1472.9,435.1L1474.5,435.7L1476.1,436L1477.6,436L1478.4,436.5L1479.2,437L1480.7,437.4L1482.3,438.3L1483.9,438.3L1485.5,437.8L1487.1,437.7L1488.8,437.8L1490.4,438.7L1492,438.9L1493.6,438.3L1495.2,437.7L1496.8,438.5L1498.4,438.8L1499.9,438.9L1501.4,438.9L1501.5,439.1L1503,440.2L1504.5,440.4L1506,440.6L1507.5,441.2L1509,442.4L1510.4,443.3L1511.9,443.9L1513.5,444.2L1514.5,444.4L1515,445L1516.5,444.2L1518.1,443.2L1519.7,443.4L1521.3,443.7L1522.9,443.7L1524.5,444.3L1526.1,445L1527.7,444.8L1529.3,444.6L1531,444.9L1532.6,445.2L1534.2,445.2L1535.8,444.8L1537.4,444.9L1537.4,444.5L1539,444.7L1540.6,444.3L1542.2,443.8L1543.8,444.7L1545.4,445.4L1547,445.5L1548.6,446.1L1550.2,446.1L1551.8,446.2L1553.4,446.9L1555,446.2L1556.6,446.3L1558.2,447.1L1559.8,447.6L1560.4,446.2L1561.4,446.5L1562.9,447.8L1564.5,447.2L1566.1,447.8L1567.7,448.2L1569.2,448.3L1570.8,449.2L1572.4,449.2L1573.9,449.7L1575.5,449.8L1576.8,450L1577,450.2L1578.6,450.3L1580.2,451.6L1581.8,452L1583.4,451.2L1585,451.5L1586.5,452.1L1588.1,452.6L1589.6,453.4L1591.2,454L1592.6,454.5L1593.2,454.4L1594.1,454.8L1595.4,456L1596.8,456.4L1598.1,457L1599.4,458.1L1600.7,459.5L1602,460.7L1603.4,460.9L1604.7,461.1L1604.8,460.8L1606.2,461L1607.7,462.2L1609.2,463.4L1610.8,464.4L1612.3,464.7L1613.9,464.5L1615.4,465.3L1617,466.1L1618.5,466.4L1620,466.9L1620.1,466.9L1621.6,467.4L1623.2,467.7L1624.8,467.7L1626.3,468.2L1627.8,468.7L1627.9,468.5L1629.3,469.9L1630.8,470.6L1632.3,470.1L1633.7,471.1L1635.2,472.5L1636.6,473L1638.1,473.4L1639.5,473.7L1639.7,473.7L1641,474L1642.5,475.3L1644.1,476L1645.6,476L1647.1,476.7L1648.6,477.9L1650.1,478.9L1651.4,478.8L1652.7,479.2L1652.8,479.4L1653.9,480.4L1655,480.8L1656.1,482L1657.1,483.5L1658.1,484.4L1659.1,485.7L1660.1,487.4L1661,489.3L1661.9,490.5L1662.8,491.6L1663.3,492.2L1663.7,492.7L1664.5,494.4L1665.4,495.4L1666.2,496.6L1667,498.5L1667.8,499.8L1668.6,501L1669.3,502.9L1670.1,504L1670.8,505.2L1671.6,506.8L1672.3,508.4L1673.1,509.5L1673.8,510.8L1674.6,512.5L1675.1,513.4L1675.4,514.1L1676.2,515.3L1677,516.6L1677.8,517.6L1678.7,518.7L1679.5,520.2L1680.3,521.8L1681.1,523.5L1681.9,524.7L1682.7,525.8L1683.5,527.4L1684.3,528.6L1685,530.6L1685.8,532.3L1686.5,533.8L1686.9,535L1687.1,535.1L1687.7,536.1L1688.3,538L1688.9,539.7L1689.5,540.8L1690,542.5L1690.6,544.1L1691.1,545.4L1691.6,546.8L1692.2,548.4L1692.7,550L1693.2,551.5L1693.8,553L1694.4,554.4L1694.8,555.6L1695,556.2L1695.6,557.8L1696.3,559.2L1697,560.5L1697.6,561.8L1698.3,563.4L1699,564.8L1699.7,566.1L1700.4,567.6L1701.1,569.1L1701.8,570.8L1702.5,571.9L1703.2,573.3L1703.8,574.7L1704,575.4L1704.5,576.7L1705.1,577.7L1705.8,579.1L1706.4,581L1707,582.8L1707.6,584.2L1708.2,585.4L1708.8,586.6L1709.4,588.4L1710,589.7L1710.6,590.9L1711.3,592.3L1711.9,593.7L1712.5,595.5L1713.1,597.2L1713.7,598.6L1714.4,600.1L1714.4,600.3L1715,601.8L1715.7,603.1L1716.3,604.3L1717,605.6L1717.7,607.2L1718.4,608.8L1719,609.8L1719.7,611.4L1720.3,613.1L1721,614.7L1721.5,616.1L1721.6,616.1L1722.2,617.3L1722.8,618.9L1723.4,620.3L1724,621.8L1724.6,623.5L1725.2,625L1725.8,626.2L1726.4,627.5L1727,629.4L1727.5,630.9L1727.8,631.5L1728.1,632.6L1728.8,633.9L1729.4,635.2L1730.1,636.7L1730.7,638.3L1731.4,639.7L1732,641.3L1732.6,642.7L1733.2,644.2L1733.7,645.7L1734.1,647.1L1734.1,647.1L1734.5,648.7L1734.8,650.1L1735.2,651.7L1735.5,653.4L1735.8,655L1736.1,656.5L1736.3,658.2L1736.6,659.9L1736.9,661.5L1737.2,663L1737.2,663L1737.5,664.5L1737.7,666.3L1737.9,668.2L1738.1,670L1738.3,671.6L1738.6,673.1L1738.9,674.2L1739.3,675.5L1739.6,676.5L1740,677.2L1741.5,677.8L1743.2,677.9L1744.3,678.8L1744.5,679.2L1745.2,680.4L1745.8,682.4L1746.4,683.7L1746.9,685.2L1747.4,686.5L1747.5,686.9L1748,688.4L1748.5,689.7L1749.1,691.1L1749.6,692.5L1750.1,694L1750.6,695.5L1751,697.1L1751.4,698.6L1751.4,698.8L1751.8,700.4L1752.2,701.8L1752.6,703.3L1752.9,705L1753.2,706.5L1753.5,708L1753.8,709.5L1754.1,710.9L1754.4,712.6L1754.8,714.2L1755.1,716L1755.4,717.8L1755.8,719L1756.1,719.8L1756.2,720.4L1756.7,722.2L1757.1,723.9L1757.6,725.2L1758.1,726.5L1758.6,727.9L1758.7,728.1L1759.1,729.2L1759.5,731L1760,732.7L1760.5,734.1L1761,735.5L1761.4,737.3L1761.9,738.8L1762.4,740.2L1762.8,741.8L1763.3,743.4L1763.7,744.9L1764.2,746.3L1764.7,747.9L1765.1,749.5L1765.6,751.1L1766,752.8L1766.4,754.5L1766.6,755.1L1766.9,756.2L1767.3,757.7L1767.7,759.2L1768.2,760.6L1768.6,761.9L1769,763.6L1769.4,765.1L1769.8,766.3L1770.2,767.8L1770.6,769.4L1771,771L1771.5,772.6L1771.9,774.1L1771.9,774L1772.3,775.5L1772.7,777.4L1773.1,779L1773.5,780.4L1774,782.1L1774.4,783.8L1774.8,785.2L1775.2,786.5L1775.6,788L1776,789.7L1776.4,791.1L1776.8,792.7L1777.1,794L1777.2,794.3L1777.6,795.9L1778,797.4L1778.4,799.1L1778.8,800.7L1779.1,802.1L1779.5,803.8L1779.9,805.5L1780.3,807.1L1780.6,808.5L1781,810.1L1781.3,811.8L1781.6,813.4L1781.7,813.9L1781.9,814.8L1782.1,816.3L1782.4,817.8L1782.6,819.4L1782.8,821.1L1783,822.1L1783.1,822.6L1783.4,824.1L1783.6,825.8L1783.9,827.4L1784.2,828.9L1784.5,830.5L1784.7,832L1785,833.6L1785.3,835L1785.6,836.6L1785.9,838.4L1786.2,839.9L1786.5,841.4L1786.8,843.1L1787.1,844.6L1787.4,846.2L1787.7,847.7L1788,849.3L1788.3,851.1L1788.6,852.6L1788.9,854.1L1789.2,855.8L1789.5,857.4L1789.8,858.8L1790.1,860.3L1790.4,861.9L1790.7,863.5L1791.1,865.1L1791.4,866.6L1791.7,868.2L1792,869.8L1792.3,871.4L1792.5,872.5L1792.6,872.8L1792.9,874.4L1793.2,876L1793.5,877.6L1793.8,879.3L1794.1,881L1794.4,882.5L1794.7,883.9L1795,885.5L1795.3,887.1L1795.6,888.8L1796,890.3L1796.3,891.8L1796.6,893.3L1796.9,894.9L1797.2,896.6L1797.5,898L1797.8,899.5L1798.1,901.2L1798.4,902.6L1798.8,904.2L1799.1,905.9L1799.4,907.5L1799.7,909L1800,910.7L1800.3,912.4L1800.7,913.8L1801,915.5L1801.3,917.1L1801.6,918.6L1802,920.2L1802.3,921.6L1802.6,923.2L1802.9,924.9L1803,925L1803.3,926.4L1803.6,927.9L1804,929.5L1804.3,931.1L1804.6,932.7L1805,934.2L1805.3,935.7L1805.7,937.1L1806,938.7L1806.4,940.4L1806.7,942.3L1807.1,943.9L1807.5,945.1L1807.8,946.6L1808.2,948.2L1808.5,949.8L1808.9,951.2L1809.3,952.8L1809.6,954.5L1810,956.1L1810.3,957.5L1810.7,958.9L1811,960.7L1811.4,962.2L1811.8,963.8L1812.1,965.5L1812.5,967.1L1812.8,968.6L1813.2,970.2L1813.5,971.7L1813.9,973.2L1814.2,974.7L1814.5,976.5L1814.8,977.7L1814.9,977.9L1815.2,979.4L1815.5,980.9L1815.9,982.5L1816.2,984.1L1816.5,985.8L1816.8,987.3L1817.1,988.6L1817.4,990.2L1817.8,992L1818.1,993.8L1818.4,995.4L1818.8,996.6L1819.1,998.1L1819.5,999.7L1819.5,999.9L1819.8,1001.2L1820.2,1002.7L1820.6,1004.4L1821,1006.1L1821.4,1007.6L1821.8,1009.2L1822.2,1011L1822.6,1012.5L1823,1013.9L1823.4,1015.5L1823.9,1016.9L1824.3,1018.4L1824.7,1020.1L1825.1,1021.4L1825.5,1023.1L1826,1024.9L1826.4,1026.4L1826.8,1027.9L1827.2,1029.5L1827.6,1030.9L1828,1032.5L1828.1,1033L1828.4,1033.9L1828.8,1035.4L1829.1,1037L1829.5,1038.6L1829.9,1040.1L1830.2,1041.8L1830.6,1043.4L1831,1044.7L1831.3,1046.2L1831.7,1047.8L1832,1049.3L1832.4,1050.6L1832.8,1052.3L1833.1,1054.1L1833.5,1055.8L1833.9,1057.3L1834.2,1058.9L1834.6,1060.2L1835,1061.7L1835.4,1063.2L1835.8,1064.8L1835.9,1065.5L1836.2,1066.4L1836.6,1068L1837,1069.7L1837.4,1071.3L1837.8,1072.9L1838.2,1074.5L1838.6,1075.9L1839,1077.5L1839.4,1079.3L1839.9,1080.9L1840.3,1082.3L1840.7,1083.8L1841.2,1085.2L1841.6,1086.8L1842.1,1088.3L1842.5,1089.8L1843,1091.6L1843.4,1093.2L1843.9,1094.7L1844.3,1096.1L1844.8,1097.4L1845.1,1098.4L1845.3,1099.1L1845.8,1100.6L1846.3,1102.2L1846.8,1103.6L1847.3,1105.2L1847.8,1106.8L1848.3,1108L1848.8,1109.5L1849.3,1111.1L1849.9,1112.7L1850.4,1114.1L1851,1115.6L1851.5,1117.2L1852.1,1118.4L1852.6,1119.6L1853.2,1121.4L1853.7,1123.1L1854.3,1124.7L1854.3,1124.8L1854.9,1126L1855.4,1127.5L1856,1129L1856.5,1130.5L1857.1,1132L1857.7,1133.6L1858.3,1135L1858.9,1136.2L1859.5,1137.6L1860.1,1139.6L1860.7,1141.3L1861.4,1142.3L1862,1143.8L1862.2,1144.2L1862.7,1145.3L1863.4,1146.9L1864.1,1148.5L1864.8,1149.8L1865.5,1151.1L1866.3,1152.4L1867,1154.2L1867.9,1155.7L1868.7,1157L1869.6,1158L1870.1,1158.8L1870.6,1160L1871.6,1161.4L1872.7,1161.7L1873.9,1162.4L1875.1,1164.1L1876.4,1164.9L1877.7,1165.4L1877.9,1165.6L1879.1,1166.8L1880.6,1167.5L1882.2,1167.8L1883.7,1168L1883.8,1168.1L1885.3,1168L1887,1167.3L1888.6,1165.9L1889.7,1165.8L1889.8,1165.7L1890.7,1164.4L1891.5,1163.4L1892.3,1162L1893,1160.5L1893.6,1158.9L1894.1,1157.2L1894.7,1155.4L1895,1154.7L1895.2,1154.4L1895.7,1153L1896.1,1151.3L1896.6,1149.7L1897,1148.2L1897.4,1146.7L1897.8,1145.1L1898.1,1143.6L1898.5,1142.1L1898.8,1140.4L1899.2,1138.8L1899.5,1137.2L1899.8,1135.7L1900.2,1134.1L1900.2,1133.9L1900.5,1132.5L1900.8,1130.8L1901.1,1129.3L1901.4,1127.7L1901.7,1126.2L1902.1,1124.8L1902.4,1123.1L1902.6,1121.5L1902.9,1120L1903.2,1118.4L1903.5,1116.9L1903.8,1115.3L1904,1113.5L1904.3,1112L1904.6,1110.5L1904.9,1108.8L1905.1,1107.3L1905.4,1105.7L1905.5,1105L1905.6,1104.3L1905.9,1102.7L1906.1,1101L1906.4,1099.3L1906.6,1097.7L1906.9,1096.2L1907.1,1094.7L1907.4,1093.2L1907.6,1091.5L1907.8,1089.8L1908.1,1088.3L1908.3,1086.7L1908.5,1085.2L1908.7,1083.6L1908.9,1082L1909.2,1080.4L1909.4,1078.9L1909.4,1078.8L1909.6,1077.4L1909.8,1075.8L1910,1074L1910.3,1072.4L1910.5,1070.8L1910.7,1069.3L1910.9,1067.7L1911.1,1066L1911.3,1064.4L1911.5,1062.8L1911.7,1061.3L1911.9,1059.8L1912.1,1058.2L1912.3,1056.6L1912.4,1054.9L1912.6,1053.3L1912.7,1052.4L1912.8,1051.7L1912.9,1050.2L1913.1,1048.6L1913.2,1047L1913.3,1045.4L1913.5,1043.8L1913.6,1042.2L1913.7,1040.7L1913.8,1039L1914,1037.4L1914.1,1035.8L1914.2,1034.2L1914.3,1032.6L1914.4,1031L1914.6,1029.5L1914.7,1027.9L1914.8,1026.3L1914.9,1024.7L1915,1024L1915.1,1023.2L1915.2,1021.6L1915.3,1019.9L1915.5,1018.3L1915.6,1016.8L1915.8,1015.1L1915.9,1013.4L1916.1,1011.8L1916.2,1010.2L1916.3,1008.7L1916.5,1007.1L1916.6,1005.6L1916.8,1004L1916.9,1002.4L1917.1,1000.7L1917.2,999.2L1917.4,997.6L1917.5,996L1917.6,994.3L1917.8,992.7L1917.9,991.2L1918.1,989.6L1918.2,988L1918.3,986.5L1918.5,984.9L1918.6,983.2L1918.8,981.6L1918.9,980L1919,978.5L1919.1,977.5L1919.2,976.9L1919.3,975.4L1919.4,973.7L1919.5,972L1919.7,970.4L1919.8,968.9L1919.9,967.3L1920,965.7L1920.2,964.1L1920.3,962.4L1920.4,960.8L1920.5,959.3L1920.6,957.7L1920.7,956L1920.9,954.5L1921,952.8L1921.1,951.2L1921.2,949.6L1921.3,948L1921.5,946.5L1921.6,944.9L1921.7,943.3L1921.8,941.7L1921.9,940.1L1922,938.6L1922.2,937L1922.3,935.4L1922.4,933.7L1922.5,932.1L1922.7,930.6L1922.8,928.9L1922.9,927.3L1923,925.7L1923.1,925L1923.2,924.2L1923.3,922.6L1923.4,921L1923.6,919.5L1923.7,917.8L1923.9,916.2L1924,914.6L1924.2,912.9L1924.3,911.4L1924.5,909.8L1924.6,908.1L1924.8,906.5L1924.9,905L1925.1,903.4L1925.3,901.9L1925.4,900.3L1925.6,898.7L1925.7,897.1L1925.9,895.4L1926,893.9L1926.2,892.2L1926.3,890.6L1926.5,889L1926.6,887.4L1926.7,885.9L1926.9,884.4L1927,882.7L1927.1,881.1L1927.2,879.5L1927.4,877.9L1927.5,876.3L1927.6,874.7L1927.7,873.1L1927.7,872.5L1927.8,871.5L1927.8,869.9L1927.9,868.3L1928,866.7L1928.1,865.1L1928.2,863.5L1928.3,861.9L1928.4,860.3L1928.4,858.7L1928.5,857.1L1928.6,855.5L1928.7,853.9L1928.7,852.3L1928.8,850.7L1928.9,849.1L1928.9,847.5L1929,845.9L1929.1,844.3L1929.1,842.8L1929.2,841.1L1929.3,839.5L1929.3,837.9L1929.4,836.3L1929.4,834.7L1929.5,833.1L1929.6,831.5L1929.6,829.9L1929.7,828.3L1929.7,826.8L1929.8,825.1L1929.8,825L1929.9,823.5L1929.9,821.9L1930,820.3L1930,818.7L1930.1,817.1L1930.1,815.5L1930.2,813.9L1930.2,812.3L1930.3,810.7L1930.3,809.1L1930.4,807.5L1930.4,805.9L1930.4,804.3L1930.5,802.7L1930.5,801.1L1930.6,799.5L1930.6,797.9L1930.7,796.3L1930.7,794.7L1930.8,793.1L1930.8,791.5L1930.9,789.9L1930.9,788.3L1931,786.7L1931,785.1L1931.1,783.5L1931.2,781.9L1931.2,780.9L1931.2,780.3L1931.3,778.7L1931.4,777.1L1931.4,775.5L1931.5,773.9L1931.6,772.2L1931.7,770.7L1931.8,769.1L1931.9,767.4L1931.9,765.9L1932,764.3L1932.1,762.7L1932.2,761.2L1932.3,759.5L1932.4,757.9L1932.5,756.3L1932.6,754.7L1932.7,753.1L1932.8,751.5L1932.9,749.9L1933,748.3L1933.1,746.8L1933.2,745.1L1933.3,743.5L1933.4,742L1933.5,740.4L1933.6,738.7L1933.7,737.1L1933.8,735.5L1933.8,735L1933.9,733.9L1933.9,732.3L1934,730.7L1934.1,729.1L1934.2,727.5L1934.3,725.9L1934.4,724.3L1934.5,722.7L1934.5,721.1L1934.6,719.5L1934.7,717.9L1934.8,716.3L1934.9,714.7L1935,713.1L1935,711.5L1935.1,709.9L1935.2,708.4L1935.3,706.7L1935.4,705.1L1935.4,703.5L1935.5,701.9L1935.6,700.3L1935.7,698.7L1935.8,697.1L1935.8,695.5L1935.9,693.9L1936,692.3L1936.1,690.7L1936.2,689.2L1936.2,687.6L1936.3,686L1936.4,684.4L1936.5,682.8L1936.5,682.5L1936.6,681.2L1936.6,679.6L1936.7,677.9L1936.8,676.4L1936.9,674.8L1937,673.2L1937.1,671.6L1937.1,670L1937.2,668.4L1937.3,666.8L1937.4,665.2L1937.5,663.6L1937.6,661.9L1937.6,660.3L1937.7,658.7L1937.8,657.2L1937.9,655.6L1938,654L1938,652.4L1938.1,650.8L1938.2,649.2L1938.3,647.6L1938.3,645.9L1938.4,644.3L1938.5,642.8L1938.5,641.2L1938.6,639.6L1938.7,638L1938.7,636.4L1938.8,635L1938.8,634.8L1938.9,633.2L1938.9,631.6L1939,630L1939,628.4L1939.1,626.8L1939.1,625.2L1939.2,623.6L1939.3,622L1939.3,620.4L1939.4,618.8L1939.4,617.2L1939.5,615.6L1939.5,614L1939.5,612.3L1939.6,610.7L1939.6,609.2L1939.7,607.6L1939.7,606L1939.8,604.4L1939.8,602.8L1939.9,601.2L1939.9,599.6L1940,598L1940,596.4L1940.1,594.7L1940.1,593.2L1940.2,591.5L1940.2,589.9L1940.3,588.3L1940.3,586.7L1940.4,585.1L1940.4,584.4L1940.4,583.5L1940.5,581.9L1940.5,580.3L1940.6,578.7L1940.7,577.2L1940.7,575.6L1940.8,574L1940.8,572.4L1940.9,570.8L1941,569.2L1941,567.6L1941.1,566L1941.1,564.4L1941.2,562.8L1941.3,561.2L1941.3,559.6L1941.4,558L1941.5,556.3L1941.5,554.7L1941.6,553.2L1941.6,551.6L1941.7,549.9L1941.8,548.3L1941.8,546.8L1941.9,545.1L1942,543.6L1942,541.9L1942.1,540.3L1942.1,538.8L1942.2,537.2L1942.3,535.6L1942.3,534L1942.4,532.4L1942.4,531.9L1942.4,530.7L1942.5,529.1L1942.6,527.6L1942.6,526L1942.7,524.4L1942.7,522.8L1942.8,521.2L1942.8,519.5L1942.9,517.9L1942.9,516.4L1943,514.8L1943.1,513.1L1943.1,511.6L1943.2,510L1943.2,508.4L1943.3,506.8L1943.3,505.1L1943.4,503.5L1943.4,501.9L1943.5,500.3L1943.5,498.7L1943.6,497.1L1943.7,495.5L1943.7,493.9L1943.8,492.3L1943.8,490.7L1943.9,489.2L1944,487.6L1944,485.9L1944.1,484.3L1944.2,482.7L1944.2,481.2L1944.3,479.5L1944.3,479.4L1944.4,477.9L1944.4,476.3L1944.5,474.7L1944.6,473.1L1944.7,471.5L1944.8,469.9L1944.9,468.3L1944.9,466.7L1945,465.2L1945.1,463.6L1945.2,462L1945.3,460.4L1945.3,460.1L1945.4,458.8L1945.4,457.2L1945.5,455.6L1945.6,454L1945.7,452.4L1945.8,450.8L1945.8,449.1L1945.9,447.5L1946,445.9L1946.1,444.3L1946.2,442.7L1946.3,441.2L1946.3,440.9L1946.4,439.6L1946.5,438L1946.6,436.3L1946.7,434.7L1946.8,433.1L1946.9,431.5L1947,429.9L1947.1,428.4L1947.2,426.8L1947.3,425.1L1947.5,423.5L1947.6,422L1947.8,420.5L1947.9,418.8L1948.1,417.3L1948.3,415.7L1948.3,415.3L1948.5,414L1948.7,412.6L1948.9,411L1949.2,409.3L1949.5,407.7L1949.9,406.2L1950.2,404.5L1950.6,403L1951,401.6L1951.5,400.1L1951.9,398.7L1952.4,397L1952.5,396.7L1952.9,395.5L1953.5,393.8L1954.2,392.1L1954.9,390.2L1955.6,388.3L1956.5,386.8L1957.4,385.5L1958.4,384.5L1958.5,384.9L1959.7,384.1L1961.2,383.1L1962.9,383.5L1964.6,383.3L1965.3,383.1L1966.2,382.8L1967.7,382L1969.2,382L1970.8,382.6L1972.3,382.7L1973.8,381.1L1973.9,381L1975.4,381.7L1977,381.6L1978.6,380.7L1980.2,380.2L1981.8,381.6L1983.4,381.5L1985,381L1986.6,381.2L1988.2,380.8L1989.8,381L1990.9,381.6L1991.4,381.9L1993,380.8L1994.7,379.9L1996.3,379.6L1997.9,378.7L1999.5,379.2L2001.1,380.6L2002.7,381L2004.3,380.2L2005.9,380.2L2007.5,380.8L2008,380.2L2009.1,379.7L2010.9,379.7L2012.7,379.7L2014.7,380.4L2016.6,379.9L2018.5,378.8L2020.3,379.5L2022,379.9L2023.6,378.9L2024.9,378.7L2026,379.1L2026.7,379.3L2026.8,379.6L2027.3,380.5L2027.7,382.2L2028,384.1" stroke="#FFC000" stroke-width="4.4"/>
</g>
<g>
<path d="M540,693.5 H607.4" stroke="#000" stroke-width="5.9" fill="none" stroke-linecap="butt"/>
<path d="M540,785.4 H607.4" stroke="#A5A5A5" stroke-width="5.9" fill="none" stroke-linecap="butt"/>
<path d="M541,874 H607.6" stroke="#ED7D31" stroke-width="4.3" fill="none" stroke-linecap="butt"/>
<path d="M541,963.8 H607.6" stroke="#FFC000" stroke-width="4.3" fill="none" stroke-linecap="butt"/>
<text y="716.6" font-size="69.8" xml:space="preserve"><tspan x="610.88" textLength="87.63" lengthAdjust="spacingAndGlyphs">TG</tspan> <tspan x="717.11" textLength="113.77" lengthAdjust="spacingAndGlyphs">REF</tspan></text>
<text y="807.7" font-size="69.8" xml:space="preserve"><tspan x="610.88" textLength="87.63" lengthAdjust="spacingAndGlyphs">TG</tspan> <tspan x="715.82" textLength="154.18" lengthAdjust="spacingAndGlyphs">2.4%</tspan> <tspan x="888.05" textLength="142.6" lengthAdjust="spacingAndGlyphs">ONC</tspan></text>
<text y="897.4" font-size="69.8" xml:space="preserve"><tspan x="612.11" textLength="128.25" lengthAdjust="spacingAndGlyphs">DTA</tspan> <tspan x="760.43" textLength="113.24" lengthAdjust="spacingAndGlyphs">REF</tspan></text>
<text y="987.5" font-size="69.8" xml:space="preserve"><tspan x="612.11" textLength="128.25" lengthAdjust="spacingAndGlyphs">DTA</tspan> <tspan x="759.94" textLength="153.34" lengthAdjust="spacingAndGlyphs">2.4%</tspan> <tspan x="931.33" textLength="143.43" lengthAdjust="spacingAndGlyphs">ONC</tspan></text>
</g>
</g>
</svg>
</body></html>
